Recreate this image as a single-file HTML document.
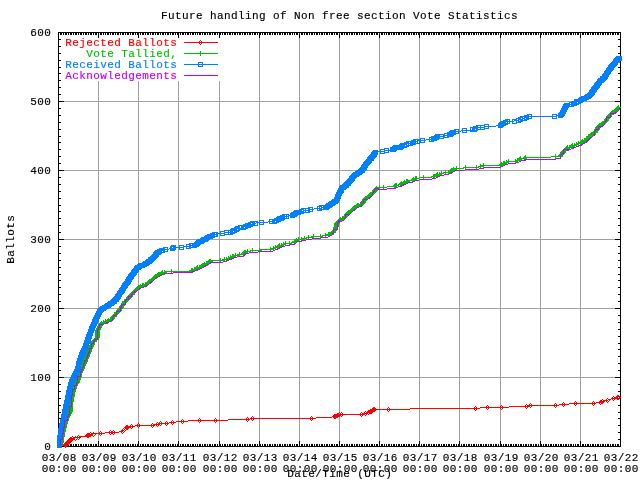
<!DOCTYPE html>
<html><head><meta charset="utf-8"><title>Future handling of Non free section Vote Statistics</title>
<style>html,body{margin:0;padding:0;background:#fff}body{width:640px;height:480px;overflow:hidden}svg{display:block}text{font-family:"Liberation Mono","DejaVu Sans Mono",monospace;font-size:11px;letter-spacing:0.4px;fill:#000;stroke-width:0.15px;}.k{fill:#000;stroke:#000}.r{fill:#ff0000;stroke:#ff0000}.g{fill:#00c000;stroke:#00c000}.b{fill:#0080ff;stroke:#0080ff}.p{fill:#c000ff;stroke:#c000ff}</style></head><body>
<svg width="640" height="480" viewBox="0 0 640 480">
<rect width="640" height="480" fill="#fff"/>
<g shape-rendering="crispEdges">
<rect x="98" y="33" width="1" height="413" fill="#a0a0a0"/>
<rect x="138" y="33" width="1" height="413" fill="#a0a0a0"/>
<rect x="178" y="33" width="1" height="413" fill="#a0a0a0"/>
<rect x="219" y="33" width="1" height="413" fill="#a0a0a0"/>
<rect x="259" y="33" width="1" height="413" fill="#a0a0a0"/>
<rect x="299" y="33" width="1" height="413" fill="#a0a0a0"/>
<rect x="339" y="33" width="1" height="413" fill="#a0a0a0"/>
<rect x="379" y="33" width="1" height="413" fill="#a0a0a0"/>
<rect x="419" y="33" width="1" height="413" fill="#a0a0a0"/>
<rect x="459" y="33" width="1" height="413" fill="#a0a0a0"/>
<rect x="500" y="33" width="1" height="413" fill="#a0a0a0"/>
<rect x="540" y="33" width="1" height="413" fill="#a0a0a0"/>
<rect x="580" y="33" width="1" height="413" fill="#a0a0a0"/>
<rect x="59" y="377" width="561" height="1" fill="#a0a0a0"/>
<rect x="59" y="308" width="561" height="1" fill="#a0a0a0"/>
<rect x="59" y="239" width="561" height="1" fill="#a0a0a0"/>
<rect x="59" y="170" width="561" height="1" fill="#a0a0a0"/>
<rect x="59" y="101" width="561" height="1" fill="#a0a0a0"/>
<rect x="59" y="33" width="162" height="48" fill="#fff"/>
<rect x="58" y="32" width="563" height="1" fill="#000"/>
<rect x="58" y="446" width="563" height="1" fill="#000"/>
<rect x="58" y="32" width="1" height="415" fill="#000"/>
<rect x="620" y="32" width="1" height="415" fill="#000"/>
<path d="M58 441h1v5h-1z M58 33h1v5h-1z M60 444h1v2h-1z M60 33h1v2h-1z M61 444h1v2h-1z M61 33h1v2h-1z M63 444h1v2h-1z M63 33h1v2h-1z M65 444h1v2h-1z M65 33h1v2h-1z M66 444h1v2h-1z M66 33h1v2h-1z M68 444h1v2h-1z M68 33h1v2h-1z M70 444h1v2h-1z M70 33h1v2h-1z M71 444h1v2h-1z M71 33h1v2h-1z M73 444h1v2h-1z M73 33h1v2h-1z M75 444h1v2h-1z M75 33h1v2h-1z M76 444h1v2h-1z M76 33h1v2h-1z M78 444h1v2h-1z M78 33h1v2h-1z M80 444h1v2h-1z M80 33h1v2h-1z M81 444h1v2h-1z M81 33h1v2h-1z M83 444h1v2h-1z M83 33h1v2h-1z M85 444h1v2h-1z M85 33h1v2h-1z M86 444h1v2h-1z M86 33h1v2h-1z M88 444h1v2h-1z M88 33h1v2h-1z M90 444h1v2h-1z M90 33h1v2h-1z M91 444h1v2h-1z M91 33h1v2h-1z M93 444h1v2h-1z M93 33h1v2h-1z M95 444h1v2h-1z M95 33h1v2h-1z M96 444h1v2h-1z M96 33h1v2h-1z M98 441h1v5h-1z M98 33h1v5h-1z M100 444h1v2h-1z M100 33h1v2h-1z M101 444h1v2h-1z M101 33h1v2h-1z M103 444h1v2h-1z M103 33h1v2h-1z M105 444h1v2h-1z M105 33h1v2h-1z M107 444h1v2h-1z M107 33h1v2h-1z M108 444h1v2h-1z M108 33h1v2h-1z M110 444h1v2h-1z M110 33h1v2h-1z M112 444h1v2h-1z M112 33h1v2h-1z M113 444h1v2h-1z M113 33h1v2h-1z M115 444h1v2h-1z M115 33h1v2h-1z M117 444h1v2h-1z M117 33h1v2h-1z M118 444h1v2h-1z M118 33h1v2h-1z M120 444h1v2h-1z M120 33h1v2h-1z M122 444h1v2h-1z M122 33h1v2h-1z M123 444h1v2h-1z M123 33h1v2h-1z M125 444h1v2h-1z M125 33h1v2h-1z M127 444h1v2h-1z M127 33h1v2h-1z M128 444h1v2h-1z M128 33h1v2h-1z M130 444h1v2h-1z M130 33h1v2h-1z M132 444h1v2h-1z M132 33h1v2h-1z M133 444h1v2h-1z M133 33h1v2h-1z M135 444h1v2h-1z M135 33h1v2h-1z M137 444h1v2h-1z M137 33h1v2h-1z M138 441h1v5h-1z M138 33h1v5h-1z M140 444h1v2h-1z M140 33h1v2h-1z M142 444h1v2h-1z M142 33h1v2h-1z M143 444h1v2h-1z M143 33h1v2h-1z M145 444h1v2h-1z M145 33h1v2h-1z M147 444h1v2h-1z M147 33h1v2h-1z M148 444h1v2h-1z M148 33h1v2h-1z M150 444h1v2h-1z M150 33h1v2h-1z M152 444h1v2h-1z M152 33h1v2h-1z M153 444h1v2h-1z M153 33h1v2h-1z M155 444h1v2h-1z M155 33h1v2h-1z M157 444h1v2h-1z M157 33h1v2h-1z M158 444h1v2h-1z M158 33h1v2h-1z M160 444h1v2h-1z M160 33h1v2h-1z M162 444h1v2h-1z M162 33h1v2h-1z M163 444h1v2h-1z M163 33h1v2h-1z M165 444h1v2h-1z M165 33h1v2h-1z M167 444h1v2h-1z M167 33h1v2h-1z M168 444h1v2h-1z M168 33h1v2h-1z M170 444h1v2h-1z M170 33h1v2h-1z M172 444h1v2h-1z M172 33h1v2h-1z M173 444h1v2h-1z M173 33h1v2h-1z M175 444h1v2h-1z M175 33h1v2h-1z M177 444h1v2h-1z M177 33h1v2h-1z M178 441h1v5h-1z M178 33h1v5h-1z M180 444h1v2h-1z M180 33h1v2h-1z M182 444h1v2h-1z M182 33h1v2h-1z M183 444h1v2h-1z M183 33h1v2h-1z M185 444h1v2h-1z M185 33h1v2h-1z M187 444h1v2h-1z M187 33h1v2h-1z M188 444h1v2h-1z M188 33h1v2h-1z M190 444h1v2h-1z M190 33h1v2h-1z M192 444h1v2h-1z M192 33h1v2h-1z M193 444h1v2h-1z M193 33h1v2h-1z M195 444h1v2h-1z M195 33h1v2h-1z M197 444h1v2h-1z M197 33h1v2h-1z M199 444h1v2h-1z M199 33h1v2h-1z M200 444h1v2h-1z M200 33h1v2h-1z M202 444h1v2h-1z M202 33h1v2h-1z M204 444h1v2h-1z M204 33h1v2h-1z M205 444h1v2h-1z M205 33h1v2h-1z M207 444h1v2h-1z M207 33h1v2h-1z M209 444h1v2h-1z M209 33h1v2h-1z M210 444h1v2h-1z M210 33h1v2h-1z M212 444h1v2h-1z M212 33h1v2h-1z M214 444h1v2h-1z M214 33h1v2h-1z M215 444h1v2h-1z M215 33h1v2h-1z M217 444h1v2h-1z M217 33h1v2h-1z M219 441h1v5h-1z M219 33h1v5h-1z M220 444h1v2h-1z M220 33h1v2h-1z M222 444h1v2h-1z M222 33h1v2h-1z M224 444h1v2h-1z M224 33h1v2h-1z M225 444h1v2h-1z M225 33h1v2h-1z M227 444h1v2h-1z M227 33h1v2h-1z M229 444h1v2h-1z M229 33h1v2h-1z M230 444h1v2h-1z M230 33h1v2h-1z M232 444h1v2h-1z M232 33h1v2h-1z M234 444h1v2h-1z M234 33h1v2h-1z M235 444h1v2h-1z M235 33h1v2h-1z M237 444h1v2h-1z M237 33h1v2h-1z M239 444h1v2h-1z M239 33h1v2h-1z M240 444h1v2h-1z M240 33h1v2h-1z M242 444h1v2h-1z M242 33h1v2h-1z M244 444h1v2h-1z M244 33h1v2h-1z M245 444h1v2h-1z M245 33h1v2h-1z M247 444h1v2h-1z M247 33h1v2h-1z M249 444h1v2h-1z M249 33h1v2h-1z M250 444h1v2h-1z M250 33h1v2h-1z M252 444h1v2h-1z M252 33h1v2h-1z M254 444h1v2h-1z M254 33h1v2h-1z M255 444h1v2h-1z M255 33h1v2h-1z M257 444h1v2h-1z M257 33h1v2h-1z M259 441h1v5h-1z M259 33h1v5h-1z M260 444h1v2h-1z M260 33h1v2h-1z M262 444h1v2h-1z M262 33h1v2h-1z M264 444h1v2h-1z M264 33h1v2h-1z M265 444h1v2h-1z M265 33h1v2h-1z M267 444h1v2h-1z M267 33h1v2h-1z M269 444h1v2h-1z M269 33h1v2h-1z M270 444h1v2h-1z M270 33h1v2h-1z M272 444h1v2h-1z M272 33h1v2h-1z M274 444h1v2h-1z M274 33h1v2h-1z M275 444h1v2h-1z M275 33h1v2h-1z M277 444h1v2h-1z M277 33h1v2h-1z M279 444h1v2h-1z M279 33h1v2h-1z M280 444h1v2h-1z M280 33h1v2h-1z M282 444h1v2h-1z M282 33h1v2h-1z M284 444h1v2h-1z M284 33h1v2h-1z M285 444h1v2h-1z M285 33h1v2h-1z M287 444h1v2h-1z M287 33h1v2h-1z M289 444h1v2h-1z M289 33h1v2h-1z M290 444h1v2h-1z M290 33h1v2h-1z M292 444h1v2h-1z M292 33h1v2h-1z M294 444h1v2h-1z M294 33h1v2h-1z M296 444h1v2h-1z M296 33h1v2h-1z M297 444h1v2h-1z M297 33h1v2h-1z M299 441h1v5h-1z M299 33h1v5h-1z M301 444h1v2h-1z M301 33h1v2h-1z M302 444h1v2h-1z M302 33h1v2h-1z M304 444h1v2h-1z M304 33h1v2h-1z M306 444h1v2h-1z M306 33h1v2h-1z M307 444h1v2h-1z M307 33h1v2h-1z M309 444h1v2h-1z M309 33h1v2h-1z M311 444h1v2h-1z M311 33h1v2h-1z M312 444h1v2h-1z M312 33h1v2h-1z M314 444h1v2h-1z M314 33h1v2h-1z M316 444h1v2h-1z M316 33h1v2h-1z M317 444h1v2h-1z M317 33h1v2h-1z M319 444h1v2h-1z M319 33h1v2h-1z M321 444h1v2h-1z M321 33h1v2h-1z M322 444h1v2h-1z M322 33h1v2h-1z M324 444h1v2h-1z M324 33h1v2h-1z M326 444h1v2h-1z M326 33h1v2h-1z M327 444h1v2h-1z M327 33h1v2h-1z M329 444h1v2h-1z M329 33h1v2h-1z M331 444h1v2h-1z M331 33h1v2h-1z M332 444h1v2h-1z M332 33h1v2h-1z M334 444h1v2h-1z M334 33h1v2h-1z M336 444h1v2h-1z M336 33h1v2h-1z M337 444h1v2h-1z M337 33h1v2h-1z M339 441h1v5h-1z M339 33h1v5h-1z M341 444h1v2h-1z M341 33h1v2h-1z M342 444h1v2h-1z M342 33h1v2h-1z M344 444h1v2h-1z M344 33h1v2h-1z M346 444h1v2h-1z M346 33h1v2h-1z M347 444h1v2h-1z M347 33h1v2h-1z M349 444h1v2h-1z M349 33h1v2h-1z M351 444h1v2h-1z M351 33h1v2h-1z M352 444h1v2h-1z M352 33h1v2h-1z M354 444h1v2h-1z M354 33h1v2h-1z M356 444h1v2h-1z M356 33h1v2h-1z M357 444h1v2h-1z M357 33h1v2h-1z M359 444h1v2h-1z M359 33h1v2h-1z M361 444h1v2h-1z M361 33h1v2h-1z M362 444h1v2h-1z M362 33h1v2h-1z M364 444h1v2h-1z M364 33h1v2h-1z M366 444h1v2h-1z M366 33h1v2h-1z M367 444h1v2h-1z M367 33h1v2h-1z M369 444h1v2h-1z M369 33h1v2h-1z M371 444h1v2h-1z M371 33h1v2h-1z M372 444h1v2h-1z M372 33h1v2h-1z M374 444h1v2h-1z M374 33h1v2h-1z M376 444h1v2h-1z M376 33h1v2h-1z M377 444h1v2h-1z M377 33h1v2h-1z M379 441h1v5h-1z M379 33h1v5h-1z M381 444h1v2h-1z M381 33h1v2h-1z M382 444h1v2h-1z M382 33h1v2h-1z M384 444h1v2h-1z M384 33h1v2h-1z M386 444h1v2h-1z M386 33h1v2h-1z M388 444h1v2h-1z M388 33h1v2h-1z M389 444h1v2h-1z M389 33h1v2h-1z M391 444h1v2h-1z M391 33h1v2h-1z M393 444h1v2h-1z M393 33h1v2h-1z M394 444h1v2h-1z M394 33h1v2h-1z M396 444h1v2h-1z M396 33h1v2h-1z M398 444h1v2h-1z M398 33h1v2h-1z M399 444h1v2h-1z M399 33h1v2h-1z M401 444h1v2h-1z M401 33h1v2h-1z M403 444h1v2h-1z M403 33h1v2h-1z M404 444h1v2h-1z M404 33h1v2h-1z M406 444h1v2h-1z M406 33h1v2h-1z M408 444h1v2h-1z M408 33h1v2h-1z M409 444h1v2h-1z M409 33h1v2h-1z M411 444h1v2h-1z M411 33h1v2h-1z M413 444h1v2h-1z M413 33h1v2h-1z M414 444h1v2h-1z M414 33h1v2h-1z M416 444h1v2h-1z M416 33h1v2h-1z M418 444h1v2h-1z M418 33h1v2h-1z M419 441h1v5h-1z M419 33h1v5h-1z M421 444h1v2h-1z M421 33h1v2h-1z M423 444h1v2h-1z M423 33h1v2h-1z M424 444h1v2h-1z M424 33h1v2h-1z M426 444h1v2h-1z M426 33h1v2h-1z M428 444h1v2h-1z M428 33h1v2h-1z M429 444h1v2h-1z M429 33h1v2h-1z M431 444h1v2h-1z M431 33h1v2h-1z M433 444h1v2h-1z M433 33h1v2h-1z M434 444h1v2h-1z M434 33h1v2h-1z M436 444h1v2h-1z M436 33h1v2h-1z M438 444h1v2h-1z M438 33h1v2h-1z M439 444h1v2h-1z M439 33h1v2h-1z M441 444h1v2h-1z M441 33h1v2h-1z M443 444h1v2h-1z M443 33h1v2h-1z M444 444h1v2h-1z M444 33h1v2h-1z M446 444h1v2h-1z M446 33h1v2h-1z M448 444h1v2h-1z M448 33h1v2h-1z M449 444h1v2h-1z M449 33h1v2h-1z M451 444h1v2h-1z M451 33h1v2h-1z M453 444h1v2h-1z M453 33h1v2h-1z M454 444h1v2h-1z M454 33h1v2h-1z M456 444h1v2h-1z M456 33h1v2h-1z M458 444h1v2h-1z M458 33h1v2h-1z M459 441h1v5h-1z M459 33h1v5h-1z M461 444h1v2h-1z M461 33h1v2h-1z M463 444h1v2h-1z M463 33h1v2h-1z M464 444h1v2h-1z M464 33h1v2h-1z M466 444h1v2h-1z M466 33h1v2h-1z M468 444h1v2h-1z M468 33h1v2h-1z M469 444h1v2h-1z M469 33h1v2h-1z M471 444h1v2h-1z M471 33h1v2h-1z M473 444h1v2h-1z M473 33h1v2h-1z M474 444h1v2h-1z M474 33h1v2h-1z M476 444h1v2h-1z M476 33h1v2h-1z M478 444h1v2h-1z M478 33h1v2h-1z M480 444h1v2h-1z M480 33h1v2h-1z M481 444h1v2h-1z M481 33h1v2h-1z M483 444h1v2h-1z M483 33h1v2h-1z M485 444h1v2h-1z M485 33h1v2h-1z M486 444h1v2h-1z M486 33h1v2h-1z M488 444h1v2h-1z M488 33h1v2h-1z M490 444h1v2h-1z M490 33h1v2h-1z M491 444h1v2h-1z M491 33h1v2h-1z M493 444h1v2h-1z M493 33h1v2h-1z M495 444h1v2h-1z M495 33h1v2h-1z M496 444h1v2h-1z M496 33h1v2h-1z M498 444h1v2h-1z M498 33h1v2h-1z M500 441h1v5h-1z M500 33h1v5h-1z M501 444h1v2h-1z M501 33h1v2h-1z M503 444h1v2h-1z M503 33h1v2h-1z M505 444h1v2h-1z M505 33h1v2h-1z M506 444h1v2h-1z M506 33h1v2h-1z M508 444h1v2h-1z M508 33h1v2h-1z M510 444h1v2h-1z M510 33h1v2h-1z M511 444h1v2h-1z M511 33h1v2h-1z M513 444h1v2h-1z M513 33h1v2h-1z M515 444h1v2h-1z M515 33h1v2h-1z M516 444h1v2h-1z M516 33h1v2h-1z M518 444h1v2h-1z M518 33h1v2h-1z M520 444h1v2h-1z M520 33h1v2h-1z M521 444h1v2h-1z M521 33h1v2h-1z M523 444h1v2h-1z M523 33h1v2h-1z M525 444h1v2h-1z M525 33h1v2h-1z M526 444h1v2h-1z M526 33h1v2h-1z M528 444h1v2h-1z M528 33h1v2h-1z M530 444h1v2h-1z M530 33h1v2h-1z M531 444h1v2h-1z M531 33h1v2h-1z M533 444h1v2h-1z M533 33h1v2h-1z M535 444h1v2h-1z M535 33h1v2h-1z M536 444h1v2h-1z M536 33h1v2h-1z M538 444h1v2h-1z M538 33h1v2h-1z M540 441h1v5h-1z M540 33h1v5h-1z M541 444h1v2h-1z M541 33h1v2h-1z M543 444h1v2h-1z M543 33h1v2h-1z M545 444h1v2h-1z M545 33h1v2h-1z M546 444h1v2h-1z M546 33h1v2h-1z M548 444h1v2h-1z M548 33h1v2h-1z M550 444h1v2h-1z M550 33h1v2h-1z M551 444h1v2h-1z M551 33h1v2h-1z M553 444h1v2h-1z M553 33h1v2h-1z M555 444h1v2h-1z M555 33h1v2h-1z M556 444h1v2h-1z M556 33h1v2h-1z M558 444h1v2h-1z M558 33h1v2h-1z M560 444h1v2h-1z M560 33h1v2h-1z M561 444h1v2h-1z M561 33h1v2h-1z M563 444h1v2h-1z M563 33h1v2h-1z M565 444h1v2h-1z M565 33h1v2h-1z M566 444h1v2h-1z M566 33h1v2h-1z M568 444h1v2h-1z M568 33h1v2h-1z M570 444h1v2h-1z M570 33h1v2h-1z M571 444h1v2h-1z M571 33h1v2h-1z M573 444h1v2h-1z M573 33h1v2h-1z M575 444h1v2h-1z M575 33h1v2h-1z M577 444h1v2h-1z M577 33h1v2h-1z M578 444h1v2h-1z M578 33h1v2h-1z M580 441h1v5h-1z M580 33h1v5h-1z M582 444h1v2h-1z M582 33h1v2h-1z M583 444h1v2h-1z M583 33h1v2h-1z M585 444h1v2h-1z M585 33h1v2h-1z M587 444h1v2h-1z M587 33h1v2h-1z M588 444h1v2h-1z M588 33h1v2h-1z M590 444h1v2h-1z M590 33h1v2h-1z M592 444h1v2h-1z M592 33h1v2h-1z M593 444h1v2h-1z M593 33h1v2h-1z M595 444h1v2h-1z M595 33h1v2h-1z M597 444h1v2h-1z M597 33h1v2h-1z M598 444h1v2h-1z M598 33h1v2h-1z M600 444h1v2h-1z M600 33h1v2h-1z M602 444h1v2h-1z M602 33h1v2h-1z M603 444h1v2h-1z M603 33h1v2h-1z M605 444h1v2h-1z M605 33h1v2h-1z M607 444h1v2h-1z M607 33h1v2h-1z M608 444h1v2h-1z M608 33h1v2h-1z M610 444h1v2h-1z M610 33h1v2h-1z M612 444h1v2h-1z M612 33h1v2h-1z M613 444h1v2h-1z M613 33h1v2h-1z M615 444h1v2h-1z M615 33h1v2h-1z M617 444h1v2h-1z M617 33h1v2h-1z M618 444h1v2h-1z M618 33h1v2h-1z M620 441h1v5h-1z M620 33h1v5h-1z M59 446h5v1h-5z M615 446h5v1h-5z M59 439h2v1h-2z M618 439h2v1h-2z M59 432h2v1h-2z M618 432h2v1h-2z M59 425h2v1h-2z M618 425h2v1h-2z M59 418h2v1h-2z M618 418h2v1h-2z M59 412h2v1h-2z M618 412h2v1h-2z M59 405h2v1h-2z M618 405h2v1h-2z M59 398h2v1h-2z M618 398h2v1h-2z M59 391h2v1h-2z M618 391h2v1h-2z M59 384h2v1h-2z M618 384h2v1h-2z M59 377h5v1h-5z M615 377h5v1h-5z M59 370h2v1h-2z M618 370h2v1h-2z M59 363h2v1h-2z M618 363h2v1h-2z M59 356h2v1h-2z M618 356h2v1h-2z M59 349h2v1h-2z M618 349h2v1h-2z M59 343h2v1h-2z M618 343h2v1h-2z M59 336h2v1h-2z M618 336h2v1h-2z M59 329h2v1h-2z M618 329h2v1h-2z M59 322h2v1h-2z M618 322h2v1h-2z M59 315h2v1h-2z M618 315h2v1h-2z M59 308h5v1h-5z M615 308h5v1h-5z M59 301h2v1h-2z M618 301h2v1h-2z M59 294h2v1h-2z M618 294h2v1h-2z M59 287h2v1h-2z M618 287h2v1h-2z M59 280h2v1h-2z M618 280h2v1h-2z M59 274h2v1h-2z M618 274h2v1h-2z M59 267h2v1h-2z M618 267h2v1h-2z M59 260h2v1h-2z M618 260h2v1h-2z M59 253h2v1h-2z M618 253h2v1h-2z M59 246h2v1h-2z M618 246h2v1h-2z M59 239h5v1h-5z M615 239h5v1h-5z M59 232h2v1h-2z M618 232h2v1h-2z M59 225h2v1h-2z M618 225h2v1h-2z M59 218h2v1h-2z M618 218h2v1h-2z M59 211h2v1h-2z M618 211h2v1h-2z M59 205h2v1h-2z M618 205h2v1h-2z M59 198h2v1h-2z M618 198h2v1h-2z M59 191h2v1h-2z M618 191h2v1h-2z M59 184h2v1h-2z M618 184h2v1h-2z M59 177h2v1h-2z M618 177h2v1h-2z M59 170h5v1h-5z M615 170h5v1h-5z M59 163h2v1h-2z M618 163h2v1h-2z M59 156h2v1h-2z M618 156h2v1h-2z M59 149h2v1h-2z M618 149h2v1h-2z M59 142h2v1h-2z M618 142h2v1h-2z M59 136h2v1h-2z M618 136h2v1h-2z M59 129h2v1h-2z M618 129h2v1h-2z M59 122h2v1h-2z M618 122h2v1h-2z M59 115h2v1h-2z M618 115h2v1h-2z M59 108h2v1h-2z M618 108h2v1h-2z M59 101h5v1h-5z M615 101h5v1h-5z M59 94h2v1h-2z M618 94h2v1h-2z M59 87h2v1h-2z M618 87h2v1h-2z M59 80h2v1h-2z M618 80h2v1h-2z M59 73h2v1h-2z M618 73h2v1h-2z M59 67h2v1h-2z M618 67h2v1h-2z M59 60h2v1h-2z M618 60h2v1h-2z M59 53h2v1h-2z M618 53h2v1h-2z M59 46h2v1h-2z M618 46h2v1h-2z M59 39h2v1h-2z M618 39h2v1h-2z M59 32h5v1h-5z M615 32h5v1h-5z" fill="#000"/>
</g>
<text class="k" x="161.0" y="19">Future handling of Non free section Vote Statistics</text>
<text class="k" x="44.2" y="450">0</text>
<text class="k" x="30.2" y="381">100</text>
<text class="k" x="30.2" y="312">200</text>
<text class="k" x="30.2" y="243">300</text>
<text class="k" x="30.2" y="174">400</text>
<text class="k" x="30.2" y="105">500</text>
<text class="k" x="30.2" y="36">600</text>
<text class="k" x="41.7" y="461">03/08</text>
<text class="k" x="41.7" y="472">00:00</text>
<text class="k" x="81.7" y="461">03/09</text>
<text class="k" x="81.7" y="472">00:00</text>
<text class="k" x="121.7" y="461">03/10</text>
<text class="k" x="121.7" y="472">00:00</text>
<text class="k" x="161.7" y="461">03/11</text>
<text class="k" x="161.7" y="472">00:00</text>
<text class="k" x="202.7" y="461">03/12</text>
<text class="k" x="202.7" y="472">00:00</text>
<text class="k" x="242.7" y="461">03/13</text>
<text class="k" x="242.7" y="472">00:00</text>
<text class="k" x="282.7" y="461">03/14</text>
<text class="k" x="282.7" y="472">00:00</text>
<text class="k" x="322.7" y="461">03/15</text>
<text class="k" x="322.7" y="472">00:00</text>
<text class="k" x="362.7" y="461">03/16</text>
<text class="k" x="362.7" y="472">00:00</text>
<text class="k" x="402.7" y="461">03/17</text>
<text class="k" x="402.7" y="472">00:00</text>
<text class="k" x="442.7" y="461">03/18</text>
<text class="k" x="442.7" y="472">00:00</text>
<text class="k" x="483.7" y="461">03/19</text>
<text class="k" x="483.7" y="472">00:00</text>
<text class="k" x="523.7" y="461">03/20</text>
<text class="k" x="523.7" y="472">00:00</text>
<text class="k" x="563.7" y="461">03/21</text>
<text class="k" x="563.7" y="472">00:00</text>
<text class="k" x="603.7" y="461">03/22</text>
<text class="k" x="603.7" y="472">00:00</text>
<text class="k" x="287.2" y="477">Date/Time (UTC)</text>
<text class="k" transform="translate(14.3,263.8) rotate(-90)">Ballots</text>
<text class="r" x="65.2" y="46">Rejected Ballots</text>
<text class="g" x="86.2" y="57">Vote Tallied,</text>
<text class="b" x="65.2" y="68">Received Ballots</text>
<text class="p" x="65.2" y="79">Acknowledgements</text>
<g shape-rendering="crispEdges">
<polyline class="r" fill="none" stroke-width="1" points="64.5,446.0 72.2,438.3 78.1,437.2 87.0,436.0 93.0,434.0 100.3,433.3 113.0,432.5 121.0,431.8 127.7,427.3 131.9,426.7 138.3,425.3 152.3,425.3 157.5,424.5 160.3,423.8 166.5,423.4 172.5,422.4 182.4,421.3 199.3,420.4 215.3,420.4 247.5,419.4 252.2,418.5 311.2,418.4 322.8,417.5 334.1,416.9 341.6,414.3 361.3,414.3 365.9,413.4 368.8,412.3 374.8,409.4 388.4,409.4 431.9,408.6 475.4,408.4 487.5,407.3 501.6,407.3 526.4,406.3 530.4,405.6 555.5,405.4 563.4,404.5 575.4,403.5 593.7,403.5 600.2,402.1 602.3,401.4 607.7,400.0 613.6,398.4 617.1,397.4 618.3,397.0" style="fill:none"/>
<polyline class="r" fill="none" stroke-width="1" points="184.0,42.5 218.0,42.5" style="fill:none"/>
<path class="r" style="stroke:none" d="M65 443h1v1h-1zM64 444h1v1h-1zM66 444h1v1h-1zM63 445h1v1h-1zM67 445h1v1h-1zM64 446h1v1h-1zM66 446h1v1h-1zM65 447h1v1h-1z M65 442h1v1h-1zM64 443h1v1h-1zM66 443h1v1h-1zM63 444h1v1h-1zM67 444h1v1h-1zM64 445h1v1h-1zM66 445h1v1h-1zM65 446h1v1h-1z M66 441h1v1h-1zM65 442h1v1h-1zM67 442h1v1h-1zM64 443h1v1h-1zM68 443h1v1h-1zM65 444h1v1h-1zM67 444h1v1h-1zM66 445h1v1h-1z M67 441h1v1h-1zM66 442h1v1h-1zM68 442h1v1h-1zM65 443h1v1h-1zM69 443h1v1h-1zM66 444h1v1h-1zM68 444h1v1h-1zM67 445h1v1h-1z M68 440h1v1h-1zM67 441h1v1h-1zM69 441h1v1h-1zM66 442h1v1h-1zM70 442h1v1h-1zM67 443h1v1h-1zM69 443h1v1h-1zM68 444h1v1h-1z M68 439h1v1h-1zM67 440h1v1h-1zM69 440h1v1h-1zM66 441h1v1h-1zM70 441h1v1h-1zM67 442h1v1h-1zM69 442h1v1h-1zM68 443h1v1h-1z M69 439h1v1h-1zM68 440h1v1h-1zM70 440h1v1h-1zM67 441h1v1h-1zM71 441h1v1h-1zM68 442h1v1h-1zM70 442h1v1h-1zM69 443h1v1h-1z M70 438h1v1h-1zM69 439h1v1h-1zM71 439h1v1h-1zM68 440h1v1h-1zM72 440h1v1h-1zM69 441h1v1h-1zM71 441h1v1h-1zM70 442h1v1h-1z M70 437h1v1h-1zM69 438h1v1h-1zM71 438h1v1h-1zM68 439h1v1h-1zM72 439h1v1h-1zM69 440h1v1h-1zM71 440h1v1h-1zM70 441h1v1h-1z M71 437h1v1h-1zM70 438h1v1h-1zM72 438h1v1h-1zM69 439h1v1h-1zM73 439h1v1h-1zM70 440h1v1h-1zM72 440h1v1h-1zM71 441h1v1h-1z M72 436h1v1h-1zM71 437h1v1h-1zM73 437h1v1h-1zM70 438h1v1h-1zM74 438h1v1h-1zM71 439h1v1h-1zM73 439h1v1h-1zM72 440h1v1h-1z M75 436h1v1h-1zM74 437h1v1h-1zM76 437h1v1h-1zM73 438h1v1h-1zM77 438h1v1h-1zM74 439h1v1h-1zM76 439h1v1h-1zM75 440h1v1h-1z M78 435h1v1h-1zM77 436h1v1h-1zM79 436h1v1h-1zM76 437h1v1h-1zM80 437h1v1h-1zM77 438h1v1h-1zM79 438h1v1h-1zM78 439h1v1h-1z M87 433h1v1h-1zM86 434h1v1h-1zM88 434h1v1h-1zM85 435h1v1h-1zM89 435h1v1h-1zM86 436h1v1h-1zM88 436h1v1h-1zM87 437h1v1h-1z M88 433h1v1h-1zM87 434h1v1h-1zM89 434h1v1h-1zM86 435h1v1h-1zM90 435h1v1h-1zM87 436h1v1h-1zM89 436h1v1h-1zM88 437h1v1h-1z M90 432h1v1h-1zM89 433h1v1h-1zM91 433h1v1h-1zM88 434h1v1h-1zM92 434h1v1h-1zM89 435h1v1h-1zM91 435h1v1h-1zM90 436h1v1h-1z M93 432h1v1h-1zM92 433h1v1h-1zM94 433h1v1h-1zM91 434h1v1h-1zM95 434h1v1h-1zM92 435h1v1h-1zM94 435h1v1h-1zM93 436h1v1h-1z M100 431h1v1h-1zM99 432h1v1h-1zM101 432h1v1h-1zM98 433h1v1h-1zM102 433h1v1h-1zM99 434h1v1h-1zM101 434h1v1h-1zM100 435h1v1h-1z M110 430h1v1h-1zM109 431h1v1h-1zM111 431h1v1h-1zM108 432h1v1h-1zM112 432h1v1h-1zM109 433h1v1h-1zM111 433h1v1h-1zM110 434h1v1h-1z M113 430h1v1h-1zM112 431h1v1h-1zM114 431h1v1h-1zM111 432h1v1h-1zM115 432h1v1h-1zM112 433h1v1h-1zM114 433h1v1h-1zM113 434h1v1h-1z M122 429h1v1h-1zM121 430h1v1h-1zM123 430h1v1h-1zM120 431h1v1h-1zM124 431h1v1h-1zM121 432h1v1h-1zM123 432h1v1h-1zM122 433h1v1h-1z M123 428h1v1h-1zM122 429h1v1h-1zM124 429h1v1h-1zM121 430h1v1h-1zM125 430h1v1h-1zM122 431h1v1h-1zM124 431h1v1h-1zM123 432h1v1h-1z M124 427h1v1h-1zM123 428h1v1h-1zM125 428h1v1h-1zM122 429h1v1h-1zM126 429h1v1h-1zM123 430h1v1h-1zM125 430h1v1h-1zM124 431h1v1h-1z M124 427h1v1h-1zM123 428h1v1h-1zM125 428h1v1h-1zM122 429h1v1h-1zM126 429h1v1h-1zM123 430h1v1h-1zM125 430h1v1h-1zM124 431h1v1h-1z M125 426h1v1h-1zM124 427h1v1h-1zM126 427h1v1h-1zM123 428h1v1h-1zM127 428h1v1h-1zM124 429h1v1h-1zM126 429h1v1h-1zM125 430h1v1h-1z M126 425h1v1h-1zM125 426h1v1h-1zM127 426h1v1h-1zM124 427h1v1h-1zM128 427h1v1h-1zM125 428h1v1h-1zM127 428h1v1h-1zM126 429h1v1h-1z M127 425h1v1h-1zM126 426h1v1h-1zM128 426h1v1h-1zM125 427h1v1h-1zM129 427h1v1h-1zM126 428h1v1h-1zM128 428h1v1h-1zM127 429h1v1h-1z M131 424h1v1h-1zM130 425h1v1h-1zM132 425h1v1h-1zM129 426h1v1h-1zM133 426h1v1h-1zM130 427h1v1h-1zM132 427h1v1h-1zM131 428h1v1h-1z M138 423h1v1h-1zM137 424h1v1h-1zM139 424h1v1h-1zM136 425h1v1h-1zM140 425h1v1h-1zM137 426h1v1h-1zM139 426h1v1h-1zM138 427h1v1h-1z M152 423h1v1h-1zM151 424h1v1h-1zM153 424h1v1h-1zM150 425h1v1h-1zM154 425h1v1h-1zM151 426h1v1h-1zM153 426h1v1h-1zM152 427h1v1h-1z M157 422h1v1h-1zM156 423h1v1h-1zM158 423h1v1h-1zM155 424h1v1h-1zM159 424h1v1h-1zM156 425h1v1h-1zM158 425h1v1h-1zM157 426h1v1h-1z M160 421h1v1h-1zM159 422h1v1h-1zM161 422h1v1h-1zM158 423h1v1h-1zM162 423h1v1h-1zM159 424h1v1h-1zM161 424h1v1h-1zM160 425h1v1h-1z M166 421h1v1h-1zM165 422h1v1h-1zM167 422h1v1h-1zM164 423h1v1h-1zM168 423h1v1h-1zM165 424h1v1h-1zM167 424h1v1h-1zM166 425h1v1h-1z M172 420h1v1h-1zM171 421h1v1h-1zM173 421h1v1h-1zM170 422h1v1h-1zM174 422h1v1h-1zM171 423h1v1h-1zM173 423h1v1h-1zM172 424h1v1h-1z M182 419h1v1h-1zM181 420h1v1h-1zM183 420h1v1h-1zM180 421h1v1h-1zM184 421h1v1h-1zM181 422h1v1h-1zM183 422h1v1h-1zM182 423h1v1h-1z M199 418h1v1h-1zM198 419h1v1h-1zM200 419h1v1h-1zM197 420h1v1h-1zM201 420h1v1h-1zM198 421h1v1h-1zM200 421h1v1h-1zM199 422h1v1h-1z M215 418h1v1h-1zM214 419h1v1h-1zM216 419h1v1h-1zM213 420h1v1h-1zM217 420h1v1h-1zM214 421h1v1h-1zM216 421h1v1h-1zM215 422h1v1h-1z M247 417h1v1h-1zM246 418h1v1h-1zM248 418h1v1h-1zM245 419h1v1h-1zM249 419h1v1h-1zM246 420h1v1h-1zM248 420h1v1h-1zM247 421h1v1h-1z M252 416h1v1h-1zM251 417h1v1h-1zM253 417h1v1h-1zM250 418h1v1h-1zM254 418h1v1h-1zM251 419h1v1h-1zM253 419h1v1h-1zM252 420h1v1h-1z M311 416h1v1h-1zM310 417h1v1h-1zM312 417h1v1h-1zM309 418h1v1h-1zM313 418h1v1h-1zM310 419h1v1h-1zM312 419h1v1h-1zM311 420h1v1h-1z M334 414h1v1h-1zM333 415h1v1h-1zM335 415h1v1h-1zM332 416h1v1h-1zM336 416h1v1h-1zM333 417h1v1h-1zM335 417h1v1h-1zM334 418h1v1h-1z M335 414h1v1h-1zM334 415h1v1h-1zM336 415h1v1h-1zM333 416h1v1h-1zM337 416h1v1h-1zM334 417h1v1h-1zM336 417h1v1h-1zM335 418h1v1h-1z M337 413h1v1h-1zM336 414h1v1h-1zM338 414h1v1h-1zM335 415h1v1h-1zM339 415h1v1h-1zM336 416h1v1h-1zM338 416h1v1h-1zM337 417h1v1h-1z M339 412h1v1h-1zM338 413h1v1h-1zM340 413h1v1h-1zM337 414h1v1h-1zM341 414h1v1h-1zM338 415h1v1h-1zM340 415h1v1h-1zM339 416h1v1h-1z M341 412h1v1h-1zM340 413h1v1h-1zM342 413h1v1h-1zM339 414h1v1h-1zM343 414h1v1h-1zM340 415h1v1h-1zM342 415h1v1h-1zM341 416h1v1h-1z M361 412h1v1h-1zM360 413h1v1h-1zM362 413h1v1h-1zM359 414h1v1h-1zM363 414h1v1h-1zM360 415h1v1h-1zM362 415h1v1h-1zM361 416h1v1h-1z M365 411h1v1h-1zM364 412h1v1h-1zM366 412h1v1h-1zM363 413h1v1h-1zM367 413h1v1h-1zM364 414h1v1h-1zM366 414h1v1h-1zM365 415h1v1h-1z M368 410h1v1h-1zM367 411h1v1h-1zM369 411h1v1h-1zM366 412h1v1h-1zM370 412h1v1h-1zM367 413h1v1h-1zM369 413h1v1h-1zM368 414h1v1h-1z M370 409h1v1h-1zM369 410h1v1h-1zM371 410h1v1h-1zM368 411h1v1h-1zM372 411h1v1h-1zM369 412h1v1h-1zM371 412h1v1h-1zM370 413h1v1h-1z M371 409h1v1h-1zM370 410h1v1h-1zM372 410h1v1h-1zM369 411h1v1h-1zM373 411h1v1h-1zM370 412h1v1h-1zM372 412h1v1h-1zM371 413h1v1h-1z M372 408h1v1h-1zM371 409h1v1h-1zM373 409h1v1h-1zM370 410h1v1h-1zM374 410h1v1h-1zM371 411h1v1h-1zM373 411h1v1h-1zM372 412h1v1h-1z M373 407h1v1h-1zM372 408h1v1h-1zM374 408h1v1h-1zM371 409h1v1h-1zM375 409h1v1h-1zM372 410h1v1h-1zM374 410h1v1h-1zM373 411h1v1h-1z M374 407h1v1h-1zM373 408h1v1h-1zM375 408h1v1h-1zM372 409h1v1h-1zM376 409h1v1h-1zM373 410h1v1h-1zM375 410h1v1h-1zM374 411h1v1h-1z M388 407h1v1h-1zM387 408h1v1h-1zM389 408h1v1h-1zM386 409h1v1h-1zM390 409h1v1h-1zM387 410h1v1h-1zM389 410h1v1h-1zM388 411h1v1h-1z M475 406h1v1h-1zM474 407h1v1h-1zM476 407h1v1h-1zM473 408h1v1h-1zM477 408h1v1h-1zM474 409h1v1h-1zM476 409h1v1h-1zM475 410h1v1h-1z M487 405h1v1h-1zM486 406h1v1h-1zM488 406h1v1h-1zM485 407h1v1h-1zM489 407h1v1h-1zM486 408h1v1h-1zM488 408h1v1h-1zM487 409h1v1h-1z M501 405h1v1h-1zM500 406h1v1h-1zM502 406h1v1h-1zM499 407h1v1h-1zM503 407h1v1h-1zM500 408h1v1h-1zM502 408h1v1h-1zM501 409h1v1h-1z M526 404h1v1h-1zM525 405h1v1h-1zM527 405h1v1h-1zM524 406h1v1h-1zM528 406h1v1h-1zM525 407h1v1h-1zM527 407h1v1h-1zM526 408h1v1h-1z M530 403h1v1h-1zM529 404h1v1h-1zM531 404h1v1h-1zM528 405h1v1h-1zM532 405h1v1h-1zM529 406h1v1h-1zM531 406h1v1h-1zM530 407h1v1h-1z M555 403h1v1h-1zM554 404h1v1h-1zM556 404h1v1h-1zM553 405h1v1h-1zM557 405h1v1h-1zM554 406h1v1h-1zM556 406h1v1h-1zM555 407h1v1h-1z M563 402h1v1h-1zM562 403h1v1h-1zM564 403h1v1h-1zM561 404h1v1h-1zM565 404h1v1h-1zM562 405h1v1h-1zM564 405h1v1h-1zM563 406h1v1h-1z M575 401h1v1h-1zM574 402h1v1h-1zM576 402h1v1h-1zM573 403h1v1h-1zM577 403h1v1h-1zM574 404h1v1h-1zM576 404h1v1h-1zM575 405h1v1h-1z M593 401h1v1h-1zM592 402h1v1h-1zM594 402h1v1h-1zM591 403h1v1h-1zM595 403h1v1h-1zM592 404h1v1h-1zM594 404h1v1h-1zM593 405h1v1h-1z M600 400h1v1h-1zM599 401h1v1h-1zM601 401h1v1h-1zM598 402h1v1h-1zM602 402h1v1h-1zM599 403h1v1h-1zM601 403h1v1h-1zM600 404h1v1h-1z M602 399h1v1h-1zM601 400h1v1h-1zM603 400h1v1h-1zM600 401h1v1h-1zM604 401h1v1h-1zM601 402h1v1h-1zM603 402h1v1h-1zM602 403h1v1h-1z M607 398h1v1h-1zM606 399h1v1h-1zM608 399h1v1h-1zM605 400h1v1h-1zM609 400h1v1h-1zM606 401h1v1h-1zM608 401h1v1h-1zM607 402h1v1h-1z M613 396h1v1h-1zM612 397h1v1h-1zM614 397h1v1h-1zM611 398h1v1h-1zM615 398h1v1h-1zM612 399h1v1h-1zM614 399h1v1h-1zM613 400h1v1h-1z M617 395h1v1h-1zM616 396h1v1h-1zM618 396h1v1h-1zM615 397h1v1h-1zM619 397h1v1h-1zM616 398h1v1h-1zM618 398h1v1h-1zM617 399h1v1h-1z M618 395h1v1h-1zM617 396h1v1h-1zM619 396h1v1h-1zM616 397h1v1h-1zM620 397h1v1h-1zM617 398h1v1h-1zM619 398h1v1h-1zM618 399h1v1h-1z M200 40h1v1h-1zM199 41h1v1h-1zM201 41h1v1h-1zM198 42h1v1h-1zM202 42h1v1h-1zM199 43h1v1h-1zM201 43h1v1h-1zM200 44h1v1h-1z"/>
<polyline class="g" fill="none" stroke-width="1" points="60.5,446.0 62.0,436.7 64.2,426.7 66.7,418.3 70.0,411.7 70.8,403.3 73.3,390.0 75.0,385.8 77.5,381.7 80.0,373.3 82.5,367.5 88.3,353.3 93.3,341.7 97.3,338.0 97.8,330.0 101.7,323.3 111.7,319.2 120.0,309.0 125.0,301.7 130.0,296.7 135.0,290.8 140.0,286.7 146.7,284.2 151.7,280.0 156.7,275.8 161.7,273.3 165.0,272.0 173.3,271.3 189.7,271.3 195.9,268.9 202.2,266.1 206.9,263.4 210.8,260.8 222.5,260.3 228.8,258.4 235.0,255.6 242.8,254.4 245.9,251.7 253.8,250.6 260.0,250.0 262.0,249.7 272.2,249.3 276.1,247.8 280.8,245.5 286.2,243.6 294.0,242.6 296.4,240.3 300.3,239.2 306.6,238.0 311.2,237.2 322.2,236.0 327.7,235.2 332.3,233.0 335.6,228.8 336.9,223.8 338.8,220.6 343.8,218.1 347.5,213.8 352.5,209.4 357.5,205.6 362.5,203.8 363.8,200.6 368.8,196.3 373.8,191.9 376.2,188.4 379.0,187.9 383.3,187.2 394.5,186.6 395.8,185.9 396.6,185.2 400.5,184.5 401.5,183.8 403.0,183.1 404.5,182.4 406.0,181.7 407.5,181.0 412.2,180.4 413.5,179.7 415.0,179.0 416.1,178.3 423.1,177.6 433.3,176.9 434.8,176.2 436.3,175.5 437.8,174.8 439.5,174.1 441.1,173.5 445.0,172.8 448.1,172.1 450.5,171.4 451.5,170.7 452.5,170.0 453.5,169.3 456.7,168.6 465.3,167.9 476.2,167.2 480.6,166.6 483.4,165.9 500.5,165.2 501.7,164.5 503.0,163.8 504.5,163.1 506.0,162.4 508.0,161.7 515.3,161.0 517.5,160.3 519.0,159.7 520.5,159.0 524.0,158.3 525.8,157.6 555.3,156.9 560.5,156.2 564.2,150.7 567.5,148.0 575.0,145.0 580.8,143.0 585.8,140.0 590.0,135.8 595.8,131.7 598.3,126.7 605.0,121.7 610.0,115.0 615.0,110.8 619.2,107.5" style="fill:none"/>
<polyline class="g" fill="none" stroke-width="1" points="184.0,53.5 218.0,53.5" style="fill:none"/>
<path class="g" stroke="none" style="stroke:none" d="M60 443h1v5h-1zM58 445h5v1h-5z M60 442h1v5h-1zM58 444h5v1h-5z M60 441h1v5h-1zM58 443h5v1h-5z M60 441h1v5h-1zM58 443h5v1h-5z M61 440h1v5h-1zM59 442h5v1h-5z M61 439h1v5h-1zM59 441h5v1h-5z M61 439h1v5h-1zM59 441h5v1h-5z M61 438h1v5h-1zM59 440h5v1h-5z M61 437h1v5h-1zM59 439h5v1h-5z M61 437h1v5h-1zM59 439h5v1h-5z M61 436h1v5h-1zM59 438h5v1h-5z M61 435h1v5h-1zM59 437h5v1h-5z M61 435h1v5h-1zM59 437h5v1h-5z M62 434h1v5h-1zM60 436h5v1h-5z M62 433h1v5h-1zM60 435h5v1h-5z M62 432h1v5h-1zM60 434h5v1h-5z M62 432h1v5h-1zM60 434h5v1h-5z M62 431h1v5h-1zM60 433h5v1h-5z M62 430h1v5h-1zM60 432h5v1h-5z M62 430h1v5h-1zM60 432h5v1h-5z M63 429h1v5h-1zM61 431h5v1h-5z M63 428h1v5h-1zM61 430h5v1h-5z M63 428h1v5h-1zM61 430h5v1h-5z M63 427h1v5h-1zM61 429h5v1h-5z M63 426h1v5h-1zM61 428h5v1h-5z M63 426h1v5h-1zM61 428h5v1h-5z M64 425h1v5h-1zM62 427h5v1h-5z M64 424h1v5h-1zM62 426h5v1h-5z M64 423h1v5h-1zM62 425h5v1h-5z M64 423h1v5h-1zM62 425h5v1h-5z M64 422h1v5h-1zM62 424h5v1h-5z M65 421h1v5h-1zM63 423h5v1h-5z M65 421h1v5h-1zM63 423h5v1h-5z M65 420h1v5h-1zM63 422h5v1h-5z M65 419h1v5h-1zM63 421h5v1h-5z M65 419h1v5h-1zM63 421h5v1h-5z M66 418h1v5h-1zM64 420h5v1h-5z M66 417h1v5h-1zM64 419h5v1h-5z M66 417h1v5h-1zM64 419h5v1h-5z M66 416h1v5h-1zM64 418h5v1h-5z M66 415h1v5h-1zM64 417h5v1h-5z M67 415h1v5h-1zM65 417h5v1h-5z M67 414h1v5h-1zM65 416h5v1h-5z M68 413h1v5h-1zM66 415h5v1h-5z M68 412h1v5h-1zM66 414h5v1h-5z M68 412h1v5h-1zM66 414h5v1h-5z M69 411h1v5h-1zM67 413h5v1h-5z M69 410h1v5h-1zM67 412h5v1h-5z M69 410h1v5h-1zM67 412h5v1h-5z M70 409h1v5h-1zM68 411h5v1h-5z M70 408h1v5h-1zM68 410h5v1h-5z M70 408h1v5h-1zM68 410h5v1h-5z M70 407h1v5h-1zM68 409h5v1h-5z M70 406h1v5h-1zM68 408h5v1h-5z M70 406h1v5h-1zM68 408h5v1h-5z M70 405h1v5h-1zM68 407h5v1h-5z M70 404h1v5h-1zM68 406h5v1h-5z M70 403h1v5h-1zM68 405h5v1h-5z M70 403h1v5h-1zM68 405h5v1h-5z M70 402h1v5h-1zM68 404h5v1h-5z M70 401h1v5h-1zM68 403h5v1h-5z M70 401h1v5h-1zM68 403h5v1h-5z M70 400h1v5h-1zM68 402h5v1h-5z M71 399h1v5h-1zM69 401h5v1h-5z M71 399h1v5h-1zM69 401h5v1h-5z M71 398h1v5h-1zM69 400h5v1h-5z M71 397h1v5h-1zM69 399h5v1h-5z M71 397h1v5h-1zM69 399h5v1h-5z M71 396h1v5h-1zM69 398h5v1h-5z M71 395h1v5h-1zM69 397h5v1h-5z M71 395h1v5h-1zM69 397h5v1h-5z M72 394h1v5h-1zM70 396h5v1h-5z M72 393h1v5h-1zM70 395h5v1h-5z M72 392h1v5h-1zM70 394h5v1h-5z M72 392h1v5h-1zM70 394h5v1h-5z M72 391h1v5h-1zM70 393h5v1h-5z M72 390h1v5h-1zM70 392h5v1h-5z M72 390h1v5h-1zM70 392h5v1h-5z M73 389h1v5h-1zM71 391h5v1h-5z M73 388h1v5h-1zM71 390h5v1h-5z M73 388h1v5h-1zM71 390h5v1h-5z M73 387h1v5h-1zM71 389h5v1h-5z M73 386h1v5h-1zM71 388h5v1h-5z M74 386h1v5h-1zM72 388h5v1h-5z M74 385h1v5h-1zM72 387h5v1h-5z M74 384h1v5h-1zM72 386h5v1h-5z M74 383h1v5h-1zM72 385h5v1h-5z M75 383h1v5h-1zM73 385h5v1h-5z M75 382h1v5h-1zM73 384h5v1h-5z M76 381h1v5h-1zM74 383h5v1h-5z M76 381h1v5h-1zM74 383h5v1h-5z M77 380h1v5h-1zM75 382h5v1h-5z M77 379h1v5h-1zM75 381h5v1h-5z M77 379h1v5h-1zM75 381h5v1h-5z M77 378h1v5h-1zM75 380h5v1h-5z M78 377h1v5h-1zM76 379h5v1h-5z M78 377h1v5h-1zM76 379h5v1h-5z M78 376h1v5h-1zM76 378h5v1h-5z M78 375h1v5h-1zM76 377h5v1h-5z M78 375h1v5h-1zM76 377h5v1h-5z M79 374h1v5h-1zM77 376h5v1h-5z M79 373h1v5h-1zM77 375h5v1h-5z M79 372h1v5h-1zM77 374h5v1h-5z M79 372h1v5h-1zM77 374h5v1h-5z M79 371h1v5h-1zM77 373h5v1h-5z M80 370h1v5h-1zM78 372h5v1h-5z M80 370h1v5h-1zM78 372h5v1h-5z M80 369h1v5h-1zM78 371h5v1h-5z M81 368h1v5h-1zM79 370h5v1h-5z M81 368h1v5h-1zM79 370h5v1h-5z M81 367h1v5h-1zM79 369h5v1h-5z M81 366h1v5h-1zM79 368h5v1h-5z M82 366h1v5h-1zM80 368h5v1h-5z M82 365h1v5h-1zM80 367h5v1h-5z M82 364h1v5h-1zM80 366h5v1h-5z M83 363h1v5h-1zM81 365h5v1h-5z M83 363h1v5h-1zM81 365h5v1h-5z M83 362h1v5h-1zM81 364h5v1h-5z M83 361h1v5h-1zM81 363h5v1h-5z M84 361h1v5h-1zM82 363h5v1h-5z M84 360h1v5h-1zM82 362h5v1h-5z M84 359h1v5h-1zM82 361h5v1h-5z M85 359h1v5h-1zM83 361h5v1h-5z M85 358h1v5h-1zM83 360h5v1h-5z M85 357h1v5h-1zM83 359h5v1h-5z M85 357h1v5h-1zM83 359h5v1h-5z M86 356h1v5h-1zM84 358h5v1h-5z M86 355h1v5h-1zM84 357h5v1h-5z M86 354h1v5h-1zM84 356h5v1h-5z M87 354h1v5h-1zM85 356h5v1h-5z M87 353h1v5h-1zM85 355h5v1h-5z M87 352h1v5h-1zM85 354h5v1h-5z M87 352h1v5h-1zM85 354h5v1h-5z M88 351h1v5h-1zM86 353h5v1h-5z M88 350h1v5h-1zM86 352h5v1h-5z M88 350h1v5h-1zM86 352h5v1h-5z M89 349h1v5h-1zM87 351h5v1h-5z M89 348h1v5h-1zM87 350h5v1h-5z M89 348h1v5h-1zM87 350h5v1h-5z M89 347h1v5h-1zM87 349h5v1h-5z M90 346h1v5h-1zM88 348h5v1h-5z M90 346h1v5h-1zM88 348h5v1h-5z M90 345h1v5h-1zM88 347h5v1h-5z M91 344h1v5h-1zM89 346h5v1h-5z M91 343h1v5h-1zM89 345h5v1h-5z M91 343h1v5h-1zM89 345h5v1h-5z M92 342h1v5h-1zM90 344h5v1h-5z M92 341h1v5h-1zM90 343h5v1h-5z M92 341h1v5h-1zM90 343h5v1h-5z M92 340h1v5h-1zM90 342h5v1h-5z M93 339h1v5h-1zM91 341h5v1h-5z M93 339h1v5h-1zM91 341h5v1h-5z M94 338h1v5h-1zM92 340h5v1h-5z M95 337h1v5h-1zM93 339h5v1h-5z M96 337h1v5h-1zM94 339h5v1h-5z M96 336h1v5h-1zM94 338h5v1h-5z M97 335h1v5h-1zM95 337h5v1h-5z M97 334h1v5h-1zM95 336h5v1h-5z M97 334h1v5h-1zM95 336h5v1h-5z M97 333h1v5h-1zM95 335h5v1h-5z M97 332h1v5h-1zM95 334h5v1h-5z M97 332h1v5h-1zM95 334h5v1h-5z M97 331h1v5h-1zM95 333h5v1h-5z M97 330h1v5h-1zM95 332h5v1h-5z M97 330h1v5h-1zM95 332h5v1h-5z M97 329h1v5h-1zM95 331h5v1h-5z M97 328h1v5h-1zM95 330h5v1h-5z M97 328h1v5h-1zM95 330h5v1h-5z M98 327h1v5h-1zM96 329h5v1h-5z M98 326h1v5h-1zM96 328h5v1h-5z M98 326h1v5h-1zM96 328h5v1h-5z M99 325h1v5h-1zM97 327h5v1h-5z M99 324h1v5h-1zM97 326h5v1h-5z M100 323h1v5h-1zM98 325h5v1h-5z M100 323h1v5h-1zM98 325h5v1h-5z M100 322h1v5h-1zM98 324h5v1h-5z M101 321h1v5h-1zM99 323h5v1h-5z M101 321h1v5h-1zM99 323h5v1h-5z M103 320h1v5h-1zM101 322h5v1h-5z M105 319h1v5h-1zM103 321h5v1h-5z M107 319h1v5h-1zM105 321h5v1h-5z M108 318h1v5h-1zM106 320h5v1h-5z M110 317h1v5h-1zM108 319h5v1h-5z M111 317h1v5h-1zM109 319h5v1h-5z M112 316h1v5h-1zM110 318h5v1h-5z M112 315h1v5h-1zM110 317h5v1h-5z M113 314h1v5h-1zM111 316h5v1h-5z M114 314h1v5h-1zM112 316h5v1h-5z M114 313h1v5h-1zM112 315h5v1h-5z M115 312h1v5h-1zM113 314h5v1h-5z M115 312h1v5h-1zM113 314h5v1h-5z M116 311h1v5h-1zM114 313h5v1h-5z M116 310h1v5h-1zM114 312h5v1h-5z M117 310h1v5h-1zM115 312h5v1h-5z M118 309h1v5h-1zM116 311h5v1h-5z M118 308h1v5h-1zM116 310h5v1h-5z M119 308h1v5h-1zM117 310h5v1h-5z M119 307h1v5h-1zM117 309h5v1h-5z M120 306h1v5h-1zM118 308h5v1h-5z M120 306h1v5h-1zM118 308h5v1h-5z M121 305h1v5h-1zM119 307h5v1h-5z M121 304h1v5h-1zM119 306h5v1h-5z M122 303h1v5h-1zM120 305h5v1h-5z M122 303h1v5h-1zM120 305h5v1h-5z M123 302h1v5h-1zM121 304h5v1h-5z M123 301h1v5h-1zM121 303h5v1h-5z M123 301h1v5h-1zM121 303h5v1h-5z M124 300h1v5h-1zM122 302h5v1h-5z M124 299h1v5h-1zM122 301h5v1h-5z M125 299h1v5h-1zM123 301h5v1h-5z M126 298h1v5h-1zM124 300h5v1h-5z M126 297h1v5h-1zM124 299h5v1h-5z M127 297h1v5h-1zM125 299h5v1h-5z M128 296h1v5h-1zM126 298h5v1h-5z M129 295h1v5h-1zM127 297h5v1h-5z M129 294h1v5h-1zM127 296h5v1h-5z M130 294h1v5h-1zM128 296h5v1h-5z M130 293h1v5h-1zM128 295h5v1h-5z M131 292h1v5h-1zM129 294h5v1h-5z M132 292h1v5h-1zM130 294h5v1h-5z M132 291h1v5h-1zM130 293h5v1h-5z M133 290h1v5h-1zM131 292h5v1h-5z M133 290h1v5h-1zM131 292h5v1h-5z M134 289h1v5h-1zM132 291h5v1h-5z M135 288h1v5h-1zM133 290h5v1h-5z M135 288h1v5h-1zM133 290h5v1h-5z M136 287h1v5h-1zM134 289h5v1h-5z M137 286h1v5h-1zM135 288h5v1h-5z M138 285h1v5h-1zM136 287h5v1h-5z M139 285h1v5h-1zM137 287h5v1h-5z M140 284h1v5h-1zM138 286h5v1h-5z M142 283h1v5h-1zM140 285h5v1h-5z M143 283h1v5h-1zM141 285h5v1h-5z M145 282h1v5h-1zM143 284h5v1h-5z M147 281h1v5h-1zM145 283h5v1h-5z M147 281h1v5h-1zM145 283h5v1h-5z M148 280h1v5h-1zM146 282h5v1h-5z M149 279h1v5h-1zM147 281h5v1h-5z M150 279h1v5h-1zM148 281h5v1h-5z M151 278h1v5h-1zM149 280h5v1h-5z M152 277h1v5h-1zM150 279h5v1h-5z M152 277h1v5h-1zM150 279h5v1h-5z M153 276h1v5h-1zM151 278h5v1h-5z M154 275h1v5h-1zM152 277h5v1h-5z M155 274h1v5h-1zM153 276h5v1h-5z M156 274h1v5h-1zM154 276h5v1h-5z M157 273h1v5h-1zM155 275h5v1h-5z M158 272h1v5h-1zM156 274h5v1h-5z M159 272h1v5h-1zM157 274h5v1h-5z M161 271h1v5h-1zM159 273h5v1h-5z M162 270h1v5h-1zM160 272h5v1h-5z M164 270h1v5h-1zM162 272h5v1h-5z M171 269h1v5h-1zM169 271h5v1h-5z M191 268h1v5h-1zM189 270h5v1h-5z M192 268h1v5h-1zM190 270h5v1h-5z M194 267h1v5h-1zM192 269h5v1h-5z M196 266h1v5h-1zM194 268h5v1h-5z M197 265h1v5h-1zM195 267h5v1h-5z M199 265h1v5h-1zM197 267h5v1h-5z M201 264h1v5h-1zM199 266h5v1h-5z M202 263h1v5h-1zM200 265h5v1h-5z M203 263h1v5h-1zM201 265h5v1h-5z M204 262h1v5h-1zM202 264h5v1h-5z M206 261h1v5h-1zM204 263h5v1h-5z M207 261h1v5h-1zM205 263h5v1h-5z M208 260h1v5h-1zM206 262h5v1h-5z M209 259h1v5h-1zM207 261h5v1h-5z M210 259h1v5h-1zM208 261h5v1h-5z M220 258h1v5h-1zM218 260h5v1h-5z M224 257h1v5h-1zM222 259h5v1h-5z M226 257h1v5h-1zM224 259h5v1h-5z M228 256h1v5h-1zM226 258h5v1h-5z M230 255h1v5h-1zM228 257h5v1h-5z M232 254h1v5h-1zM230 256h5v1h-5z M233 254h1v5h-1zM231 256h5v1h-5z M235 253h1v5h-1zM233 255h5v1h-5z M239 252h1v5h-1zM237 254h5v1h-5z M243 252h1v5h-1zM241 254h5v1h-5z M243 251h1v5h-1zM241 253h5v1h-5z M244 250h1v5h-1zM242 252h5v1h-5z M245 250h1v5h-1zM243 252h5v1h-5z M247 249h1v5h-1zM245 251h5v1h-5z M252 248h1v5h-1zM250 250h5v1h-5z M259 248h1v5h-1zM257 250h5v1h-5z M270 247h1v5h-1zM268 249h5v1h-5z M273 246h1v5h-1zM271 248h5v1h-5z M275 245h1v5h-1zM273 247h5v1h-5z M277 245h1v5h-1zM275 247h5v1h-5z M278 244h1v5h-1zM276 246h5v1h-5z M279 243h1v5h-1zM277 245h5v1h-5z M281 243h1v5h-1zM279 245h5v1h-5z M283 242h1v5h-1zM281 244h5v1h-5z M285 241h1v5h-1zM283 243h5v1h-5z M289 241h1v5h-1zM287 243h5v1h-5z M294 240h1v5h-1zM292 242h5v1h-5z M294 239h1v5h-1zM292 241h5v1h-5z M295 239h1v5h-1zM293 241h5v1h-5z M296 238h1v5h-1zM294 240h5v1h-5z M298 237h1v5h-1zM296 239h5v1h-5z M301 237h1v5h-1zM299 239h5v1h-5z M304 236h1v5h-1zM302 238h5v1h-5z M308 235h1v5h-1zM306 237h5v1h-5z M313 234h1v5h-1zM311 236h5v1h-5z M320 234h1v5h-1zM318 236h5v1h-5z M325 233h1v5h-1zM323 235h5v1h-5z M328 232h1v5h-1zM326 234h5v1h-5z M329 232h1v5h-1zM327 234h5v1h-5z M331 231h1v5h-1zM329 233h5v1h-5z M332 230h1v5h-1zM330 232h5v1h-5z M333 230h1v5h-1zM331 232h5v1h-5z M333 229h1v5h-1zM331 231h5v1h-5z M334 228h1v5h-1zM332 230h5v1h-5z M334 228h1v5h-1zM332 230h5v1h-5z M335 227h1v5h-1zM333 229h5v1h-5z M335 226h1v5h-1zM333 228h5v1h-5z M335 225h1v5h-1zM333 227h5v1h-5z M335 225h1v5h-1zM333 227h5v1h-5z M336 224h1v5h-1zM334 226h5v1h-5z M336 223h1v5h-1zM334 225h5v1h-5z M336 223h1v5h-1zM334 225h5v1h-5z M336 222h1v5h-1zM334 224h5v1h-5z M336 221h1v5h-1zM334 223h5v1h-5z M337 221h1v5h-1zM335 223h5v1h-5z M337 220h1v5h-1zM335 222h5v1h-5z M338 219h1v5h-1zM336 221h5v1h-5z M338 219h1v5h-1zM336 221h5v1h-5z M339 218h1v5h-1zM337 220h5v1h-5z M340 217h1v5h-1zM338 219h5v1h-5z M342 216h1v5h-1zM340 218h5v1h-5z M343 216h1v5h-1zM341 218h5v1h-5z M344 215h1v5h-1zM342 217h5v1h-5z M344 214h1v5h-1zM342 216h5v1h-5z M345 214h1v5h-1zM343 216h5v1h-5z M346 213h1v5h-1zM344 215h5v1h-5z M346 212h1v5h-1zM344 214h5v1h-5z M347 212h1v5h-1zM345 214h5v1h-5z M347 211h1v5h-1zM345 213h5v1h-5z M348 210h1v5h-1zM346 212h5v1h-5z M349 210h1v5h-1zM347 212h5v1h-5z M350 209h1v5h-1zM348 211h5v1h-5z M351 208h1v5h-1zM349 210h5v1h-5z M351 208h1v5h-1zM349 210h5v1h-5z M352 207h1v5h-1zM350 209h5v1h-5z M353 206h1v5h-1zM351 208h5v1h-5z M354 205h1v5h-1zM352 207h5v1h-5z M355 205h1v5h-1zM353 207h5v1h-5z M356 204h1v5h-1zM354 206h5v1h-5z M357 203h1v5h-1zM355 205h5v1h-5z M358 203h1v5h-1zM356 205h5v1h-5z M360 202h1v5h-1zM358 204h5v1h-5z M362 201h1v5h-1zM360 203h5v1h-5z M362 201h1v5h-1zM360 203h5v1h-5z M363 200h1v5h-1zM361 202h5v1h-5z M363 199h1v5h-1zM361 201h5v1h-5z M363 199h1v5h-1zM361 201h5v1h-5z M364 198h1v5h-1zM362 200h5v1h-5z M364 197h1v5h-1zM362 199h5v1h-5z M365 196h1v5h-1zM363 198h5v1h-5z M366 196h1v5h-1zM364 198h5v1h-5z M367 195h1v5h-1zM365 197h5v1h-5z M368 194h1v5h-1zM366 196h5v1h-5z M368 194h1v5h-1zM366 196h5v1h-5z M369 193h1v5h-1zM367 195h5v1h-5z M370 192h1v5h-1zM368 194h5v1h-5z M371 192h1v5h-1zM369 194h5v1h-5z M372 191h1v5h-1zM370 193h5v1h-5z M372 190h1v5h-1zM370 192h5v1h-5z M373 190h1v5h-1zM371 192h5v1h-5z M374 189h1v5h-1zM372 191h5v1h-5z M374 188h1v5h-1zM372 190h5v1h-5z M375 188h1v5h-1zM373 190h5v1h-5z M375 187h1v5h-1zM373 189h5v1h-5z M376 186h1v5h-1zM374 188h5v1h-5z M379 185h1v5h-1zM377 187h5v1h-5z M383 185h1v5h-1zM381 187h5v1h-5z M394 184h1v5h-1zM392 186h5v1h-5z M395 183h1v5h-1zM393 185h5v1h-5z M396 183h1v5h-1zM394 185h5v1h-5z M400 182h1v5h-1zM398 184h5v1h-5z M401 181h1v5h-1zM399 183h5v1h-5z M403 181h1v5h-1zM401 183h5v1h-5z M404 180h1v5h-1zM402 182h5v1h-5z M406 179h1v5h-1zM404 181h5v1h-5z M407 179h1v5h-1zM405 181h5v1h-5z M412 178h1v5h-1zM410 180h5v1h-5z M413 177h1v5h-1zM411 179h5v1h-5z M415 176h1v5h-1zM413 178h5v1h-5z M416 176h1v5h-1zM414 178h5v1h-5z M423 175h1v5h-1zM421 177h5v1h-5z M433 174h1v5h-1zM431 176h5v1h-5z M434 174h1v5h-1zM432 176h5v1h-5z M436 173h1v5h-1zM434 175h5v1h-5z M437 172h1v5h-1zM435 174h5v1h-5z M439 172h1v5h-1zM437 174h5v1h-5z M441 171h1v5h-1zM439 173h5v1h-5z M445 170h1v5h-1zM443 172h5v1h-5z M448 170h1v5h-1zM446 172h5v1h-5z M450 169h1v5h-1zM448 171h5v1h-5z M451 168h1v5h-1zM449 170h5v1h-5z M452 168h1v5h-1zM450 170h5v1h-5z M453 167h1v5h-1zM451 169h5v1h-5z M456 166h1v5h-1zM454 168h5v1h-5z M465 165h1v5h-1zM463 167h5v1h-5z M476 165h1v5h-1zM474 167h5v1h-5z M480 164h1v5h-1zM478 166h5v1h-5z M483 163h1v5h-1zM481 165h5v1h-5z M500 163h1v5h-1zM498 165h5v1h-5z M501 162h1v5h-1zM499 164h5v1h-5z M503 161h1v5h-1zM501 163h5v1h-5z M504 161h1v5h-1zM502 163h5v1h-5z M506 160h1v5h-1zM504 162h5v1h-5z M508 159h1v5h-1zM506 161h5v1h-5z M515 159h1v5h-1zM513 161h5v1h-5z M517 158h1v5h-1zM515 160h5v1h-5z M519 157h1v5h-1zM517 159h5v1h-5z M520 156h1v5h-1zM518 158h5v1h-5z M524 156h1v5h-1zM522 158h5v1h-5z M525 155h1v5h-1zM523 157h5v1h-5z M555 154h1v5h-1zM553 156h5v1h-5z M560 154h1v5h-1zM558 156h5v1h-5z M560 153h1v5h-1zM558 155h5v1h-5z M561 152h1v5h-1zM559 154h5v1h-5z M561 152h1v5h-1zM559 154h5v1h-5z M562 151h1v5h-1zM560 153h5v1h-5z M562 150h1v5h-1zM560 152h5v1h-5z M563 150h1v5h-1zM561 152h5v1h-5z M563 149h1v5h-1zM561 151h5v1h-5z M564 148h1v5h-1zM562 150h5v1h-5z M565 147h1v5h-1zM563 149h5v1h-5z M565 147h1v5h-1zM563 149h5v1h-5z M566 146h1v5h-1zM564 148h5v1h-5z M567 145h1v5h-1zM565 147h5v1h-5z M569 145h1v5h-1zM567 147h5v1h-5z M571 144h1v5h-1zM569 146h5v1h-5z M572 143h1v5h-1zM570 145h5v1h-5z M574 143h1v5h-1zM572 145h5v1h-5z M576 142h1v5h-1zM574 144h5v1h-5z M578 141h1v5h-1zM576 143h5v1h-5z M580 141h1v5h-1zM578 143h5v1h-5z M581 140h1v5h-1zM579 142h5v1h-5z M582 139h1v5h-1zM580 141h5v1h-5z M584 139h1v5h-1zM582 141h5v1h-5z M585 138h1v5h-1zM583 140h5v1h-5z M586 137h1v5h-1zM584 139h5v1h-5z M586 136h1v5h-1zM584 138h5v1h-5z M587 136h1v5h-1zM585 138h5v1h-5z M588 135h1v5h-1zM586 137h5v1h-5z M588 134h1v5h-1zM586 136h5v1h-5z M589 134h1v5h-1zM587 136h5v1h-5z M590 133h1v5h-1zM588 135h5v1h-5z M591 132h1v5h-1zM589 134h5v1h-5z M592 132h1v5h-1zM590 134h5v1h-5z M593 131h1v5h-1zM591 133h5v1h-5z M594 130h1v5h-1zM592 132h5v1h-5z M595 130h1v5h-1zM593 132h5v1h-5z M595 129h1v5h-1zM593 131h5v1h-5z M596 128h1v5h-1zM594 130h5v1h-5z M596 127h1v5h-1zM594 129h5v1h-5z M597 127h1v5h-1zM595 129h5v1h-5z M597 126h1v5h-1zM595 128h5v1h-5z M597 125h1v5h-1zM595 127h5v1h-5z M598 125h1v5h-1zM596 127h5v1h-5z M598 124h1v5h-1zM596 126h5v1h-5z M599 123h1v5h-1zM597 125h5v1h-5z M600 123h1v5h-1zM598 125h5v1h-5z M601 122h1v5h-1zM599 124h5v1h-5z M602 121h1v5h-1zM600 123h5v1h-5z M603 121h1v5h-1zM601 123h5v1h-5z M604 120h1v5h-1zM602 122h5v1h-5z M605 119h1v5h-1zM603 121h5v1h-5z M605 119h1v5h-1zM603 121h5v1h-5z M606 118h1v5h-1zM604 120h5v1h-5z M606 117h1v5h-1zM604 119h5v1h-5z M607 116h1v5h-1zM605 118h5v1h-5z M607 116h1v5h-1zM605 118h5v1h-5z M608 115h1v5h-1zM606 117h5v1h-5z M608 114h1v5h-1zM606 116h5v1h-5z M609 114h1v5h-1zM607 116h5v1h-5z M609 113h1v5h-1zM607 115h5v1h-5z M610 112h1v5h-1zM608 114h5v1h-5z M611 112h1v5h-1zM609 114h5v1h-5z M611 111h1v5h-1zM609 113h5v1h-5z M612 110h1v5h-1zM610 112h5v1h-5z M613 110h1v5h-1zM611 112h5v1h-5z M614 109h1v5h-1zM612 111h5v1h-5z M615 108h1v5h-1zM613 110h5v1h-5z M616 107h1v5h-1zM614 109h5v1h-5z M616 107h1v5h-1zM614 109h5v1h-5z M617 106h1v5h-1zM615 108h5v1h-5z M618 105h1v5h-1zM616 107h5v1h-5z M200 51h1v5h-1zM198 53h5v1h-5z"/>
<polyline class="b" fill="none" stroke-width="1" points="59.0,446.0 60.0,436.7 61.7,426.7 64.2,415.0 66.7,403.3 69.2,391.7 71.7,381.7 75.0,375.0 77.5,370.0 79.1,362.5 82.9,352.5 85.0,348.0 88.4,338.5 91.5,329.5 96.9,317.5 100.6,310.0 106.7,306.2 113.3,302.0 117.0,298.0 121.9,290.5 127.2,282.3 132.5,274.3 136.5,269.0 140.4,265.9 144.0,264.9 146.1,263.5 149.8,260.7 154.0,257.1 157.5,252.5 162.5,250.0 165.2,249.4 172.5,248.7 173.5,248.0 181.2,247.3 188.6,246.6 191.3,245.9 194.5,245.2 196.4,244.5 199.2,242.0 201.4,241.2 207.0,237.9 213.6,235.1 215.9,234.2 222.5,233.5 226.2,232.8 230.4,232.1 232.3,231.4 233.5,230.7 234.7,230.0 236.0,229.3 237.9,228.7 240.8,228.0 243.1,227.3 245.4,226.6 247.0,225.9 248.7,225.2 250.0,224.5 252.5,223.8 255.6,223.1 261.5,222.4 271.2,221.8 274.8,221.1 276.5,220.4 284.4,216.9 286.9,216.2 292.5,215.5 293.4,214.9 296.1,212.8 298.7,212.1 301.5,211.4 303.5,210.7 307.7,210.0 310.5,209.3 319.5,208.6 321.5,208.0 326.1,207.3 327.3,206.6 331.2,204.0 335.1,201.6 337.4,198.5 338.6,194.6 342.2,187.8 346.3,185.0 350.0,181.0 355.0,175.0 362.5,170.0 366.7,163.3 371.7,157.5 375.8,152.1 382.5,151.4 386.5,150.7 392.4,150.0 393.4,149.3 394.4,148.6 395.2,147.9 400.0,147.2 401.0,146.5 402.0,145.9 404.5,145.2 406.0,144.5 408.0,143.8 410.5,143.1 413.0,142.4 415.8,141.7 417.5,141.0 422.4,140.3 431.5,139.6 433.0,139.0 434.5,138.3 436.0,137.6 437.8,136.9 441.5,136.2 446.8,135.5 449.0,134.8 450.0,134.1 451.0,133.4 452.0,132.7 453.0,132.1 456.6,131.4 464.3,130.7 472.5,130.0 474.0,129.3 475.5,128.6 478.8,127.9 482.7,127.2 486.6,126.5 500.3,125.8 500.9,125.2 501.5,124.5 502.3,123.8 503.8,123.1 505.5,122.4 507.0,121.7 514.5,121.0 518.5,120.3 520.5,119.6 522.5,118.9 524.0,118.2 526.0,117.6 529.5,116.9 554.4,116.2 560.5,115.5 561.2,114.8 561.7,114.1 566.8,105.1 571.0,104.5 573.0,103.8 574.6,103.1 576.0,102.4 576.9,101.7 582.4,99.3 588.6,96.6 593.3,90.8 598.3,83.3 604.2,77.5 609.2,70.0 615.0,62.5 619.4,58.2" style="fill:none"/>
<polyline class="b" fill="none" stroke-width="1" points="184.0,64.5 218.0,64.5" style="fill:none"/>
<path class="b" style="fill:none" stroke-width="1" d="M57.5 443.5h4v4h-4z M57.5 442.5h4v4h-4z M57.5 441.5h4v4h-4z M57.5 441.5h4v4h-4z M57.5 440.5h4v4h-4z M57.5 439.5h4v4h-4z M57.5 439.5h4v4h-4z M57.5 438.5h4v4h-4z M57.5 437.5h4v4h-4z M57.5 437.5h4v4h-4z M57.5 436.5h4v4h-4z M57.5 435.5h4v4h-4z M57.5 435.5h4v4h-4z M58.5 434.5h4v4h-4z M58.5 433.5h4v4h-4z M58.5 432.5h4v4h-4z M58.5 432.5h4v4h-4z M58.5 431.5h4v4h-4z M58.5 430.5h4v4h-4z M58.5 430.5h4v4h-4z M58.5 429.5h4v4h-4z M58.5 428.5h4v4h-4z M59.5 428.5h4v4h-4z M59.5 427.5h4v4h-4z M59.5 426.5h4v4h-4z M59.5 426.5h4v4h-4z M59.5 425.5h4v4h-4z M59.5 424.5h4v4h-4z M59.5 423.5h4v4h-4z M59.5 423.5h4v4h-4z M60.5 422.5h4v4h-4z M60.5 421.5h4v4h-4z M60.5 421.5h4v4h-4z M60.5 420.5h4v4h-4z M60.5 419.5h4v4h-4z M60.5 419.5h4v4h-4z M61.5 418.5h4v4h-4z M61.5 417.5h4v4h-4z M61.5 417.5h4v4h-4z M61.5 416.5h4v4h-4z M61.5 415.5h4v4h-4z M61.5 415.5h4v4h-4z M61.5 414.5h4v4h-4z M62.5 413.5h4v4h-4z M62.5 412.5h4v4h-4z M62.5 412.5h4v4h-4z M62.5 411.5h4v4h-4z M62.5 410.5h4v4h-4z M62.5 410.5h4v4h-4z M62.5 409.5h4v4h-4z M63.5 408.5h4v4h-4z M63.5 408.5h4v4h-4z M63.5 407.5h4v4h-4z M63.5 406.5h4v4h-4z M63.5 406.5h4v4h-4z M63.5 405.5h4v4h-4z M63.5 404.5h4v4h-4z M64.5 403.5h4v4h-4z M64.5 403.5h4v4h-4z M64.5 402.5h4v4h-4z M64.5 401.5h4v4h-4z M64.5 401.5h4v4h-4z M64.5 400.5h4v4h-4z M65.5 399.5h4v4h-4z M65.5 399.5h4v4h-4z M65.5 398.5h4v4h-4z M65.5 397.5h4v4h-4z M65.5 397.5h4v4h-4z M65.5 396.5h4v4h-4z M65.5 395.5h4v4h-4z M66.5 395.5h4v4h-4z M66.5 394.5h4v4h-4z M66.5 393.5h4v4h-4z M66.5 392.5h4v4h-4z M66.5 392.5h4v4h-4z M66.5 391.5h4v4h-4z M66.5 390.5h4v4h-4z M67.5 390.5h4v4h-4z M67.5 389.5h4v4h-4z M67.5 388.5h4v4h-4z M67.5 388.5h4v4h-4z M67.5 387.5h4v4h-4z M67.5 386.5h4v4h-4z M68.5 386.5h4v4h-4z M68.5 385.5h4v4h-4z M68.5 384.5h4v4h-4z M68.5 383.5h4v4h-4z M68.5 383.5h4v4h-4z M68.5 382.5h4v4h-4z M69.5 381.5h4v4h-4z M69.5 381.5h4v4h-4z M69.5 380.5h4v4h-4z M69.5 379.5h4v4h-4z M69.5 379.5h4v4h-4z M70.5 378.5h4v4h-4z M70.5 377.5h4v4h-4z M70.5 377.5h4v4h-4z M71.5 376.5h4v4h-4z M71.5 375.5h4v4h-4z M72.5 375.5h4v4h-4z M72.5 374.5h4v4h-4z M72.5 373.5h4v4h-4z M73.5 372.5h4v4h-4z M73.5 372.5h4v4h-4z M73.5 371.5h4v4h-4z M74.5 370.5h4v4h-4z M74.5 370.5h4v4h-4z M74.5 369.5h4v4h-4z M75.5 368.5h4v4h-4z M75.5 368.5h4v4h-4z M75.5 367.5h4v4h-4z M75.5 366.5h4v4h-4z M75.5 366.5h4v4h-4z M76.5 365.5h4v4h-4z M76.5 364.5h4v4h-4z M76.5 363.5h4v4h-4z M76.5 363.5h4v4h-4z M76.5 362.5h4v4h-4z M76.5 361.5h4v4h-4z M76.5 361.5h4v4h-4z M77.5 360.5h4v4h-4z M77.5 359.5h4v4h-4z M77.5 359.5h4v4h-4z M77.5 358.5h4v4h-4z M78.5 357.5h4v4h-4z M78.5 357.5h4v4h-4z M78.5 356.5h4v4h-4z M78.5 355.5h4v4h-4z M79.5 354.5h4v4h-4z M79.5 354.5h4v4h-4z M79.5 353.5h4v4h-4z M79.5 352.5h4v4h-4z M80.5 352.5h4v4h-4z M80.5 351.5h4v4h-4z M80.5 350.5h4v4h-4z M81.5 350.5h4v4h-4z M81.5 349.5h4v4h-4z M81.5 348.5h4v4h-4z M82.5 348.5h4v4h-4z M82.5 347.5h4v4h-4z M82.5 346.5h4v4h-4z M82.5 346.5h4v4h-4z M83.5 345.5h4v4h-4z M83.5 344.5h4v4h-4z M83.5 343.5h4v4h-4z M83.5 343.5h4v4h-4z M84.5 342.5h4v4h-4z M84.5 341.5h4v4h-4z M84.5 341.5h4v4h-4z M84.5 340.5h4v4h-4z M85.5 339.5h4v4h-4z M85.5 339.5h4v4h-4z M85.5 338.5h4v4h-4z M85.5 337.5h4v4h-4z M86.5 337.5h4v4h-4z M86.5 336.5h4v4h-4z M86.5 335.5h4v4h-4z M86.5 334.5h4v4h-4z M87.5 334.5h4v4h-4z M87.5 333.5h4v4h-4z M87.5 332.5h4v4h-4z M87.5 332.5h4v4h-4z M88.5 331.5h4v4h-4z M88.5 330.5h4v4h-4z M88.5 330.5h4v4h-4z M88.5 329.5h4v4h-4z M89.5 328.5h4v4h-4z M89.5 328.5h4v4h-4z M89.5 327.5h4v4h-4z M89.5 326.5h4v4h-4z M90.5 326.5h4v4h-4z M90.5 325.5h4v4h-4z M90.5 324.5h4v4h-4z M91.5 323.5h4v4h-4z M91.5 323.5h4v4h-4z M91.5 322.5h4v4h-4z M92.5 321.5h4v4h-4z M92.5 321.5h4v4h-4z M92.5 320.5h4v4h-4z M92.5 319.5h4v4h-4z M93.5 319.5h4v4h-4z M93.5 318.5h4v4h-4z M93.5 317.5h4v4h-4z M94.5 317.5h4v4h-4z M94.5 316.5h4v4h-4z M94.5 315.5h4v4h-4z M95.5 314.5h4v4h-4z M95.5 314.5h4v4h-4z M95.5 313.5h4v4h-4z M96.5 312.5h4v4h-4z M96.5 312.5h4v4h-4z M96.5 311.5h4v4h-4z M97.5 310.5h4v4h-4z M97.5 310.5h4v4h-4z M97.5 309.5h4v4h-4z M98.5 308.5h4v4h-4z M98.5 308.5h4v4h-4z M99.5 307.5h4v4h-4z M100.5 306.5h4v4h-4z M101.5 306.5h4v4h-4z M102.5 305.5h4v4h-4z M104.5 304.5h4v4h-4z M105.5 303.5h4v4h-4z M106.5 303.5h4v4h-4z M107.5 302.5h4v4h-4z M108.5 301.5h4v4h-4z M109.5 301.5h4v4h-4z M110.5 300.5h4v4h-4z M111.5 299.5h4v4h-4z M112.5 299.5h4v4h-4z M112.5 298.5h4v4h-4z M113.5 297.5h4v4h-4z M114.5 297.5h4v4h-4z M114.5 296.5h4v4h-4z M115.5 295.5h4v4h-4z M115.5 294.5h4v4h-4z M116.5 294.5h4v4h-4z M116.5 293.5h4v4h-4z M117.5 292.5h4v4h-4z M117.5 292.5h4v4h-4z M117.5 291.5h4v4h-4z M118.5 290.5h4v4h-4z M118.5 290.5h4v4h-4z M119.5 289.5h4v4h-4z M119.5 288.5h4v4h-4z M120.5 288.5h4v4h-4z M120.5 287.5h4v4h-4z M121.5 286.5h4v4h-4z M121.5 285.5h4v4h-4z M121.5 285.5h4v4h-4z M122.5 284.5h4v4h-4z M122.5 283.5h4v4h-4z M123.5 283.5h4v4h-4z M123.5 282.5h4v4h-4z M124.5 281.5h4v4h-4z M124.5 281.5h4v4h-4z M125.5 280.5h4v4h-4z M125.5 279.5h4v4h-4z M126.5 279.5h4v4h-4z M126.5 278.5h4v4h-4z M126.5 277.5h4v4h-4z M127.5 277.5h4v4h-4z M127.5 276.5h4v4h-4z M128.5 275.5h4v4h-4z M128.5 274.5h4v4h-4z M129.5 274.5h4v4h-4z M129.5 273.5h4v4h-4z M130.5 272.5h4v4h-4z M130.5 272.5h4v4h-4z M131.5 271.5h4v4h-4z M131.5 270.5h4v4h-4z M132.5 270.5h4v4h-4z M132.5 269.5h4v4h-4z M133.5 268.5h4v4h-4z M133.5 268.5h4v4h-4z M134.5 267.5h4v4h-4z M134.5 266.5h4v4h-4z M135.5 265.5h4v4h-4z M136.5 265.5h4v4h-4z M137.5 264.5h4v4h-4z M138.5 263.5h4v4h-4z M140.5 263.5h4v4h-4z M142.5 262.5h4v4h-4z M143.5 261.5h4v4h-4z M144.5 261.5h4v4h-4z M145.5 260.5h4v4h-4z M146.5 259.5h4v4h-4z M147.5 259.5h4v4h-4z M148.5 258.5h4v4h-4z M148.5 257.5h4v4h-4z M149.5 257.5h4v4h-4z M150.5 256.5h4v4h-4z M151.5 255.5h4v4h-4z M152.5 254.5h4v4h-4z M152.5 254.5h4v4h-4z M153.5 253.5h4v4h-4z M153.5 252.5h4v4h-4z M154.5 252.5h4v4h-4z M154.5 251.5h4v4h-4z M155.5 250.5h4v4h-4z M156.5 250.5h4v4h-4z M157.5 249.5h4v4h-4z M159.5 248.5h4v4h-4z M160.5 248.5h4v4h-4z M163.5 247.5h4v4h-4z M170.5 246.5h4v4h-4z M171.5 245.5h4v4h-4z M179.5 245.5h4v4h-4z M186.5 244.5h4v4h-4z M189.5 243.5h4v4h-4z M192.5 243.5h4v4h-4z M194.5 242.5h4v4h-4z M195.5 241.5h4v4h-4z M195.5 241.5h4v4h-4z M196.5 240.5h4v4h-4z M197.5 239.5h4v4h-4z M199.5 239.5h4v4h-4z M200.5 238.5h4v4h-4z M201.5 237.5h4v4h-4z M203.5 237.5h4v4h-4z M204.5 236.5h4v4h-4z M205.5 235.5h4v4h-4z M207.5 234.5h4v4h-4z M208.5 234.5h4v4h-4z M210.5 233.5h4v4h-4z M212.5 232.5h4v4h-4z M213.5 232.5h4v4h-4z M220.5 231.5h4v4h-4z M224.5 230.5h4v4h-4z M228.5 230.5h4v4h-4z M230.5 229.5h4v4h-4z M231.5 228.5h4v4h-4z M232.5 228.5h4v4h-4z M234.5 227.5h4v4h-4z M235.5 226.5h4v4h-4z M238.5 225.5h4v4h-4z M241.5 225.5h4v4h-4z M243.5 224.5h4v4h-4z M245.5 223.5h4v4h-4z M246.5 223.5h4v4h-4z M248.5 222.5h4v4h-4z M250.5 221.5h4v4h-4z M253.5 221.5h4v4h-4z M259.5 220.5h4v4h-4z M269.5 219.5h4v4h-4z M272.5 219.5h4v4h-4z M274.5 218.5h4v4h-4z M276.5 217.5h4v4h-4z M277.5 216.5h4v4h-4z M279.5 216.5h4v4h-4z M280.5 215.5h4v4h-4z M282.5 214.5h4v4h-4z M284.5 214.5h4v4h-4z M290.5 213.5h4v4h-4z M291.5 212.5h4v4h-4z M292.5 212.5h4v4h-4z M293.5 211.5h4v4h-4z M294.5 210.5h4v4h-4z M296.5 210.5h4v4h-4z M299.5 209.5h4v4h-4z M301.5 208.5h4v4h-4z M305.5 208.5h4v4h-4z M308.5 207.5h4v4h-4z M317.5 206.5h4v4h-4z M319.5 205.5h4v4h-4z M324.5 205.5h4v4h-4z M325.5 204.5h4v4h-4z M326.5 203.5h4v4h-4z M327.5 203.5h4v4h-4z M328.5 202.5h4v4h-4z M329.5 201.5h4v4h-4z M330.5 201.5h4v4h-4z M331.5 200.5h4v4h-4z M332.5 199.5h4v4h-4z M333.5 199.5h4v4h-4z M334.5 198.5h4v4h-4z M334.5 197.5h4v4h-4z M335.5 196.5h4v4h-4z M335.5 196.5h4v4h-4z M335.5 195.5h4v4h-4z M335.5 194.5h4v4h-4z M336.5 194.5h4v4h-4z M336.5 193.5h4v4h-4z M336.5 192.5h4v4h-4z M336.5 192.5h4v4h-4z M337.5 191.5h4v4h-4z M337.5 190.5h4v4h-4z M337.5 190.5h4v4h-4z M338.5 189.5h4v4h-4z M338.5 188.5h4v4h-4z M339.5 188.5h4v4h-4z M339.5 187.5h4v4h-4z M339.5 186.5h4v4h-4z M340.5 185.5h4v4h-4z M341.5 185.5h4v4h-4z M342.5 184.5h4v4h-4z M343.5 183.5h4v4h-4z M344.5 183.5h4v4h-4z M344.5 182.5h4v4h-4z M345.5 181.5h4v4h-4z M346.5 181.5h4v4h-4z M346.5 180.5h4v4h-4z M347.5 179.5h4v4h-4z M347.5 179.5h4v4h-4z M348.5 178.5h4v4h-4z M349.5 177.5h4v4h-4z M349.5 176.5h4v4h-4z M350.5 176.5h4v4h-4z M350.5 175.5h4v4h-4z M351.5 174.5h4v4h-4z M351.5 174.5h4v4h-4z M352.5 173.5h4v4h-4z M353.5 172.5h4v4h-4z M354.5 172.5h4v4h-4z M355.5 171.5h4v4h-4z M356.5 170.5h4v4h-4z M357.5 170.5h4v4h-4z M358.5 169.5h4v4h-4z M359.5 168.5h4v4h-4z M360.5 168.5h4v4h-4z M360.5 167.5h4v4h-4z M361.5 166.5h4v4h-4z M361.5 165.5h4v4h-4z M362.5 165.5h4v4h-4z M362.5 164.5h4v4h-4z M363.5 163.5h4v4h-4z M363.5 163.5h4v4h-4z M363.5 162.5h4v4h-4z M364.5 161.5h4v4h-4z M364.5 161.5h4v4h-4z M365.5 160.5h4v4h-4z M366.5 159.5h4v4h-4z M366.5 159.5h4v4h-4z M367.5 158.5h4v4h-4z M367.5 157.5h4v4h-4z M368.5 156.5h4v4h-4z M369.5 156.5h4v4h-4z M369.5 155.5h4v4h-4z M370.5 154.5h4v4h-4z M370.5 154.5h4v4h-4z M371.5 153.5h4v4h-4z M371.5 152.5h4v4h-4z M372.5 152.5h4v4h-4z M372.5 151.5h4v4h-4z M373.5 150.5h4v4h-4z M373.5 150.5h4v4h-4z M380.5 149.5h4v4h-4z M384.5 148.5h4v4h-4z M390.5 147.5h4v4h-4z M391.5 147.5h4v4h-4z M392.5 146.5h4v4h-4z M393.5 145.5h4v4h-4z M398.5 145.5h4v4h-4z M399.5 144.5h4v4h-4z M400.5 143.5h4v4h-4z M402.5 143.5h4v4h-4z M404.5 142.5h4v4h-4z M406.5 141.5h4v4h-4z M408.5 141.5h4v4h-4z M411.5 140.5h4v4h-4z M413.5 139.5h4v4h-4z M415.5 139.5h4v4h-4z M420.5 138.5h4v4h-4z M429.5 137.5h4v4h-4z M431.5 136.5h4v4h-4z M432.5 136.5h4v4h-4z M434.5 135.5h4v4h-4z M435.5 134.5h4v4h-4z M439.5 134.5h4v4h-4z M444.5 133.5h4v4h-4z M447.5 132.5h4v4h-4z M448.5 132.5h4v4h-4z M449.5 131.5h4v4h-4z M450.5 130.5h4v4h-4z M451.5 130.5h4v4h-4z M454.5 129.5h4v4h-4z M462.5 128.5h4v4h-4z M470.5 127.5h4v4h-4z M472.5 127.5h4v4h-4z M473.5 126.5h4v4h-4z M476.5 125.5h4v4h-4z M480.5 125.5h4v4h-4z M484.5 124.5h4v4h-4z M498.5 123.5h4v4h-4z M498.5 123.5h4v4h-4z M499.5 122.5h4v4h-4z M500.5 121.5h4v4h-4z M501.5 121.5h4v4h-4z M503.5 120.5h4v4h-4z M505.5 119.5h4v4h-4z M512.5 119.5h4v4h-4z M516.5 118.5h4v4h-4z M518.5 117.5h4v4h-4z M520.5 116.5h4v4h-4z M522.5 116.5h4v4h-4z M524.5 115.5h4v4h-4z M527.5 114.5h4v4h-4z M552.5 114.5h4v4h-4z M558.5 113.5h4v4h-4z M559.5 112.5h4v4h-4z M559.5 112.5h4v4h-4z M560.5 111.5h4v4h-4z M560.5 110.5h4v4h-4z M560.5 110.5h4v4h-4z M561.5 109.5h4v4h-4z M561.5 108.5h4v4h-4z M562.5 107.5h4v4h-4z M562.5 107.5h4v4h-4z M562.5 106.5h4v4h-4z M563.5 105.5h4v4h-4z M563.5 105.5h4v4h-4z M563.5 104.5h4v4h-4z M564.5 103.5h4v4h-4z M564.5 103.5h4v4h-4z M569.5 102.5h4v4h-4z M571.5 101.5h4v4h-4z M572.5 101.5h4v4h-4z M574.5 100.5h4v4h-4z M574.5 99.5h4v4h-4z M576.5 99.5h4v4h-4z M578.5 98.5h4v4h-4z M579.5 97.5h4v4h-4z M581.5 96.5h4v4h-4z M582.5 96.5h4v4h-4z M584.5 95.5h4v4h-4z M585.5 94.5h4v4h-4z M586.5 94.5h4v4h-4z M587.5 93.5h4v4h-4z M588.5 92.5h4v4h-4z M588.5 92.5h4v4h-4z M589.5 91.5h4v4h-4z M589.5 90.5h4v4h-4z M590.5 90.5h4v4h-4z M590.5 89.5h4v4h-4z M591.5 88.5h4v4h-4z M591.5 87.5h4v4h-4z M592.5 87.5h4v4h-4z M592.5 86.5h4v4h-4z M593.5 85.5h4v4h-4z M593.5 85.5h4v4h-4z M594.5 84.5h4v4h-4z M594.5 83.5h4v4h-4z M595.5 83.5h4v4h-4z M595.5 82.5h4v4h-4z M596.5 81.5h4v4h-4z M596.5 81.5h4v4h-4z M597.5 80.5h4v4h-4z M597.5 79.5h4v4h-4z M598.5 78.5h4v4h-4z M599.5 78.5h4v4h-4z M600.5 77.5h4v4h-4z M600.5 76.5h4v4h-4z M601.5 76.5h4v4h-4z M602.5 75.5h4v4h-4z M602.5 74.5h4v4h-4z M603.5 74.5h4v4h-4z M603.5 73.5h4v4h-4z M604.5 72.5h4v4h-4z M604.5 72.5h4v4h-4z M604.5 71.5h4v4h-4z M605.5 70.5h4v4h-4z M605.5 70.5h4v4h-4z M606.5 69.5h4v4h-4z M606.5 68.5h4v4h-4z M607.5 67.5h4v4h-4z M607.5 67.5h4v4h-4z M608.5 66.5h4v4h-4z M608.5 65.5h4v4h-4z M609.5 65.5h4v4h-4z M609.5 64.5h4v4h-4z M610.5 63.5h4v4h-4z M610.5 63.5h4v4h-4z M611.5 62.5h4v4h-4z M612.5 61.5h4v4h-4z M612.5 61.5h4v4h-4z M613.5 60.5h4v4h-4z M613.5 59.5h4v4h-4z M614.5 58.5h4v4h-4z M615.5 58.5h4v4h-4z M615.5 57.5h4v4h-4z M616.5 56.5h4v4h-4z M617.5 56.5h4v4h-4z M198.5 62.5h4v4h-4z"/>
<polyline class="p" fill="none" stroke-width="1" points="60.8,446.0 60.8,439.7 62.3,439.7 62.3,433.3 63.3,433.3 63.3,427.6 64.8,427.6 64.8,420.7 67.3,420.7 67.3,416.3 68.3,416.3 68.3,414.3 69.3,414.3 69.3,406.1 71.8,406.1 71.8,395.5 72.8,395.5 72.8,389.6 74.3,389.6 74.3,385.1 76.8,385.1 76.8,382.2 77.8,382.2 77.8,376.7 80.3,376.7 80.3,371.6 81.3,371.6 81.3,369.3 82.3,369.3 82.3,367.0 83.3,367.0 83.3,363.9 84.8,363.9 84.8,360.2 86.3,360.2 86.3,357.2 87.3,357.2 87.3,354.7 88.3,354.7 88.3,352.3 89.3,352.3 89.3,348.3 91.8,348.3 91.8,343.6 93.3,343.6 93.3,341.4 94.3,341.4 94.3,339.4 97.8,339.4 97.8,329.3 98.8,329.3 98.8,327.6 99.8,327.6 99.8,324.6 102.3,324.6 102.3,324.7 103.3,324.3 104.3,323.9 105.3,323.5 106.3,323.1 107.3,322.6 108.3,322.2 109.3,321.8 110.3,321.4 111.3,321.0 112.3,320.4 113.3,315.3 116.8,315.3 116.8,311.0 120.3,311.0 120.3,307.7 121.8,307.7 121.8,304.0 125.3,304.0 125.3,299.8 128.8,299.8 128.8,296.8 131.3,296.8 131.3,294.5 132.8,294.5 132.8,292.7 134.3,292.7 134.3,291.0 135.8,291.0 135.8,292.0 136.8,291.2 137.8,290.4 138.8,289.5 139.8,288.7 140.8,288.1 141.8,287.7 142.8,287.3 143.8,287.0 144.8,286.6 145.8,286.2 146.8,285.9 147.8,285.2 148.8,284.3 149.8,283.5 150.8,282.6 151.8,281.8 152.8,281.0 153.8,280.1 154.8,279.3 155.8,278.4 156.8,277.6 157.8,277.0 158.8,276.5 159.8,276.0 160.8,275.5 161.8,275.0 162.8,274.6 163.8,274.2 164.8,273.8 165.8,273.5 166.8,273.5 167.8,273.4 168.8,273.3 169.8,273.2 170.8,273.1 171.8,273.0 172.8,273.0 173.8,272.9 174.8,272.9 175.8,272.9 176.8,272.9 177.8,272.9 178.8,272.9 179.8,272.9 180.8,272.9 181.8,272.9 182.8,272.9 183.8,272.9 184.8,272.9 185.8,272.9 186.8,272.9 187.8,272.9 188.8,272.9 189.8,272.9 190.8,272.6 191.8,272.3 192.8,271.9 193.8,271.5 194.8,271.1 195.8,270.7 196.8,270.3 197.8,269.9 198.8,269.4 199.8,269.0 200.8,268.5 201.8,268.1 202.8,267.6 203.8,267.0 204.8,266.5 205.8,265.9 206.8,265.3 207.8,264.7 208.8,264.0 209.8,263.4 210.8,262.7 211.8,262.4 212.8,262.4 213.8,262.3 214.8,262.3 215.8,262.3 216.8,262.2 217.8,262.2 218.8,262.1 219.8,262.1 220.8,262.0 221.8,262.0 222.8,262.0 223.8,261.7 224.8,261.4 225.8,261.1 226.8,260.8 227.8,260.5 228.8,260.2 229.8,259.8 230.8,259.3 231.8,258.9 232.8,258.4 233.8,258.0 234.8,257.6 235.8,257.2 236.8,257.1 237.8,256.9 238.8,256.8 239.8,256.6 240.8,256.5 241.8,256.3 242.8,256.2 243.8,255.6 244.8,254.7 245.8,253.8 246.8,253.3 247.8,253.2 248.8,253.1 249.8,252.9 250.8,252.8 251.8,252.6 252.8,252.5 253.8,252.4 254.8,252.3 255.8,252.2 256.8,252.1 257.8,252.0 258.8,251.9 259.8,251.8 260.8,251.7 261.8,251.5 262.8,251.4 263.8,251.4 264.8,251.3 265.8,251.3 266.8,251.3 267.8,251.2 268.8,251.2 269.8,251.1 270.8,251.1 271.8,251.1 272.8,251.0 273.8,250.6 274.8,250.2 275.8,249.8 276.8,249.4 277.8,248.9 278.8,248.4 279.8,247.9 280.8,247.5 281.8,247.0 282.8,246.7 283.8,246.4 284.8,246.0 285.8,245.7 286.8,245.3 287.8,245.2 288.8,245.1 289.8,245.0 290.8,244.8 291.8,244.7 292.8,244.6 293.8,244.5 294.8,244.0 295.8,243.0 296.8,242.1 297.8,241.8 298.8,241.5 299.8,241.2 300.8,241.0 301.8,240.8 302.8,240.6 303.8,240.4 304.8,240.2 305.8,240.0 306.8,239.8 307.8,239.7 308.8,239.5 309.8,239.3 310.8,239.2 311.8,239.0 312.8,238.9 313.8,238.8 314.8,238.7 315.8,238.6 316.8,238.4 317.8,238.3 318.8,238.2 319.8,238.1 320.8,238.0 321.8,237.9 322.8,237.8 323.8,237.7 324.8,237.5 325.8,237.4 326.8,237.2 327.8,237.1 328.8,236.7 329.8,236.2 330.8,235.7 331.8,235.3 332.8,234.7 333.8,229.1 337.3,229.1 337.3,222.5 338.3,222.5 338.3,220.7 339.8,220.7 339.8,222.2 340.8,221.7 341.8,221.2 342.8,220.7 343.8,220.2 344.8,219.3 345.8,214.5 348.3,214.5 348.3,215.3 349.3,214.4 350.3,213.6 351.3,212.7 352.3,211.8 353.3,211.0 354.3,210.2 355.3,209.5 356.3,208.7 357.3,207.9 358.3,207.3 359.3,207.0 360.3,206.6 361.3,206.3 362.3,202.6 363.8,202.6 363.8,199.3 367.3,199.3 367.3,199.8 368.3,199.0 369.3,198.1 370.3,197.2 371.3,196.4 372.3,195.5 373.3,191.7 374.8,191.7 374.8,188.6 378.3,188.6 378.3,190.0 379.3,189.9 380.3,189.7 381.3,189.6 382.3,189.4 383.3,189.2 384.3,189.1 385.3,189.1 386.3,189.0 387.3,189.0 388.3,188.9 389.3,188.8 390.3,188.8 391.3,188.7 392.3,188.7 393.3,188.6 394.3,188.5 395.3,188.3 396.3,187.7 397.3,187.1 398.3,186.9 399.3,186.7 400.3,186.5 401.3,186.2 402.3,185.6 403.3,185.1 404.3,184.6 405.3,184.2 406.3,183.7 407.3,183.3 408.3,182.9 409.3,182.8 410.3,182.7 411.3,182.5 412.3,182.4 413.3,181.9 414.3,181.4 415.3,181.0 416.3,180.4 417.3,180.2 418.3,180.1 419.3,180.0 420.3,179.9 421.3,179.8 422.3,179.7 423.3,179.6 424.3,179.5 425.3,179.5 426.3,179.4 427.3,179.3 428.3,179.3 429.3,179.2 430.3,179.1 431.3,179.1 432.3,179.0 433.3,178.9 434.3,178.6 435.3,178.2 436.3,177.7 437.3,177.3 438.3,176.8 439.3,176.4 440.3,176.0 441.3,175.5 442.3,175.3 443.3,175.1 444.3,175.0 445.3,174.8 446.3,174.6 447.3,174.4 448.3,174.1 449.3,173.9 450.3,173.6 451.3,173.1 452.3,172.4 453.3,171.8 454.3,171.3 455.3,171.0 456.3,170.8 457.3,170.6 458.3,170.6 459.3,170.5 460.3,170.4 461.3,170.3 462.3,170.2 463.3,170.2 464.3,170.1 465.3,170.0 466.3,169.9 467.3,169.9 468.3,169.8 469.3,169.8 470.3,169.7 471.3,169.6 472.3,169.6 473.3,169.5 474.3,169.5 475.3,169.4 476.3,169.3 477.3,169.2 478.3,169.1 479.3,168.9 480.3,168.7 481.3,168.6 482.3,168.3 483.3,168.1 484.3,167.9 485.3,167.9 486.3,167.8 487.3,167.8 488.3,167.8 489.3,167.7 490.3,167.7 491.3,167.7 492.3,167.6 493.3,167.6 494.3,167.5 495.3,167.5 496.3,167.5 497.3,167.4 498.3,167.4 499.3,167.3 500.3,167.3 501.3,167.0 502.3,166.5 503.3,166.0 504.3,165.5 505.3,165.0 506.3,164.6 507.3,164.2 508.3,163.9 509.3,163.8 510.3,163.7 511.3,163.6 512.3,163.5 513.3,163.4 514.3,163.3 515.3,163.2 516.3,163.0 517.3,162.7 518.3,162.3 519.3,161.8 520.3,161.4 521.3,161.0 522.3,160.8 523.3,160.6 524.3,160.4 525.3,160.1 526.3,159.7 527.3,159.7 528.3,159.7 529.3,159.7 530.3,159.6 531.3,159.6 532.3,159.6 533.3,159.6 534.3,159.6 535.3,159.5 536.3,159.5 537.3,159.5 538.3,159.5 539.3,159.4 540.3,159.4 541.3,159.4 542.3,159.4 543.3,159.4 544.3,159.3 545.3,159.3 546.3,159.3 547.3,159.3 548.3,159.2 549.3,159.2 550.3,159.2 551.3,159.2 552.3,159.2 553.3,159.1 554.3,159.1 555.3,159.1 556.3,159.0 557.3,158.9 558.3,158.7 559.3,158.6 560.3,158.5 561.3,153.3 563.8,153.3 563.8,149.8 567.3,149.8 567.3,150.7 568.3,150.1 569.3,149.7 570.3,149.3 571.3,148.9 572.3,148.5 573.3,148.1 574.3,147.7 575.3,147.3 576.3,146.9 577.3,146.6 578.3,146.2 579.3,145.9 580.3,145.5 581.3,145.2 582.3,144.6 583.3,144.0 584.3,143.4 585.3,142.8 586.3,142.1 587.3,141.1 588.3,140.1 589.3,139.2 590.3,138.2 591.3,137.4 592.3,136.7 593.3,136.0 594.3,135.3 595.3,129.4 598.8,129.4 598.8,126.0 600.3,126.0 600.3,127.8 601.3,127.0 602.3,126.3 603.3,125.5 604.3,124.8 605.3,120.5 606.8,120.5 606.8,117.1 610.3,117.1 610.3,113.5 613.8,113.5 613.8,114.4 614.8,113.6 615.8,112.8 616.8,112.0 617.8,111.2 618.8,110.4 619.5,108.0" style="fill:none"/>
<polyline class="p" fill="none" stroke-width="1" points="184.0,75.5 218.0,75.5" style="fill:none"/>
</g>
</svg></body></html>
